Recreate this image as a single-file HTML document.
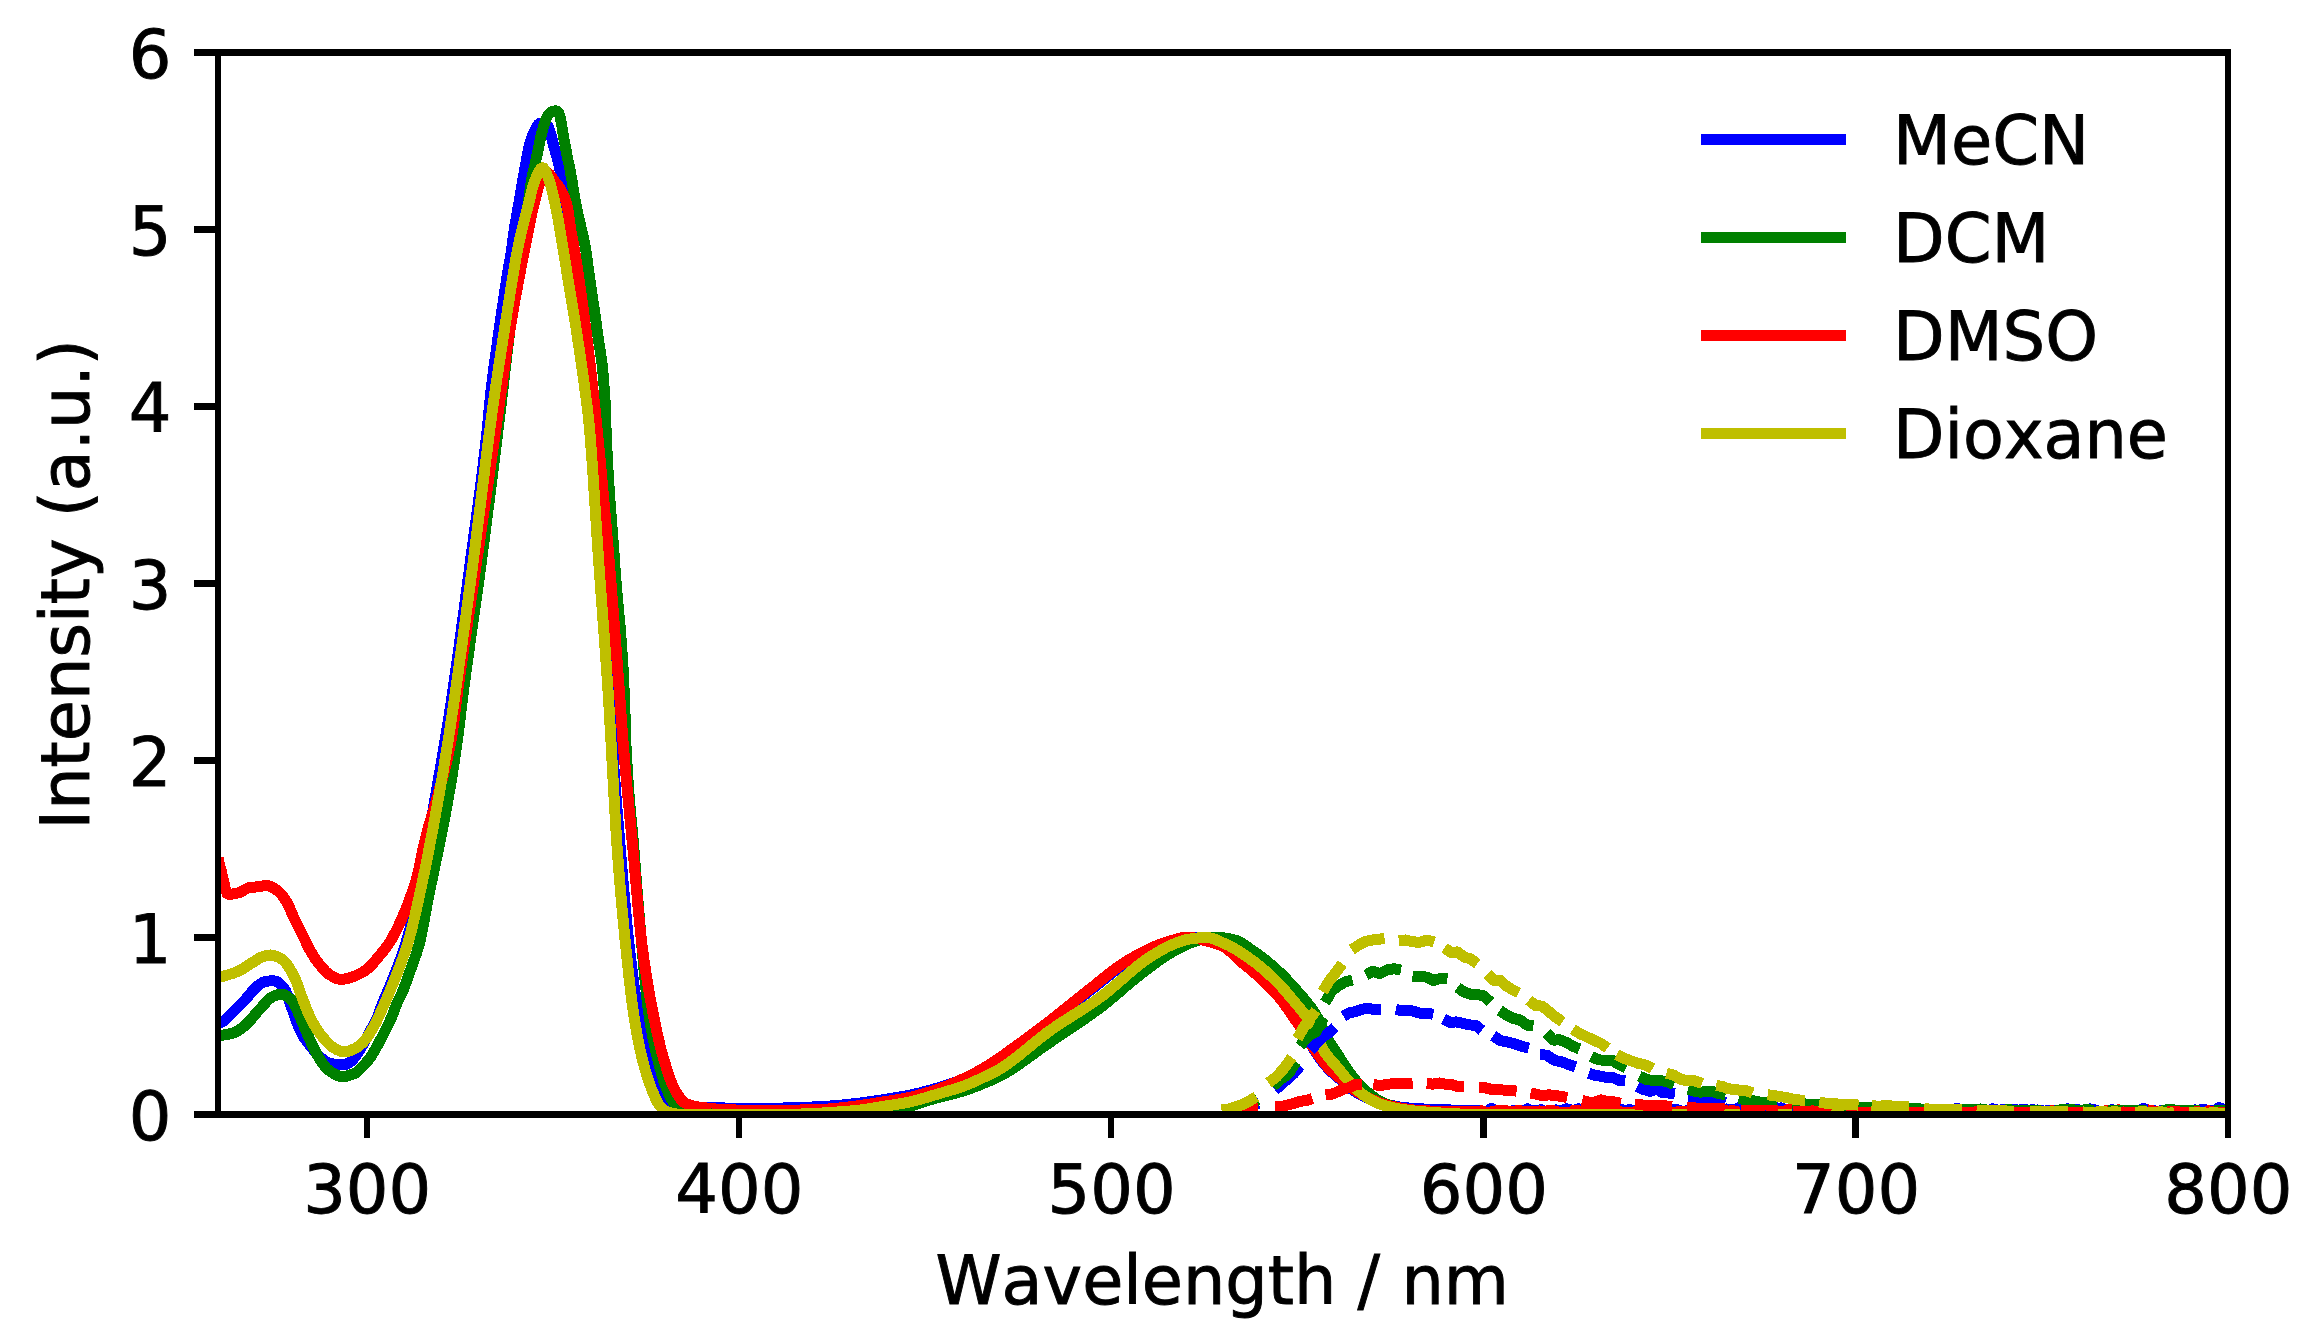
<!DOCTYPE html>
<html lang="en"><head><meta charset="utf-8"><title>Absorption and emission spectra</title>
<style>html,body{margin:0;padding:0;background:#fff}body{width:2306px;height:1342px;overflow:hidden}svg{display:block}text{font-family:"DejaVu Sans","Liberation Sans",sans-serif;font-size:67.00px;fill:#000;font-kerning:none;stroke:#000;stroke-width:0.9px;stroke-linejoin:miter}.ln{fill:none;stroke-width:11.00;stroke-linejoin:round;stroke-linecap:butt}</style></head><body>
<svg width="2306" height="1342" viewBox="0 0 2306 1342" shape-rendering="crispEdges">
<rect x="0" y="0" width="2306" height="1342" fill="#fff"/>
<defs><clipPath id="ax"><rect x="218.0" y="52.5" width="2010.0" height="1062.0"/></clipPath></defs>
<g clip-path="url(#ax)">
<path class="ln" stroke="#0000ff" d="M218.0 1023.5 L219.5 1023.1 L221.0 1022.5 L222.5 1021.7 L224.0 1020.6 L225.5 1019.4 L227.0 1018.0 L228.5 1016.5 L230.0 1015.0 L231.5 1013.5 L233.0 1012.0 L234.5 1010.6 L236.0 1009.1 L237.5 1007.7 L239.0 1006.2 L240.5 1004.7 L242.0 1003.1 L243.5 1001.6 L245.0 1000.0 L246.5 998.3 L248.0 996.5 L249.5 994.7 L251.0 992.8 L252.5 991.0 L254.0 989.3 L255.5 987.8 L257.0 986.5 L258.5 985.4 L260.0 984.2 L261.5 983.2 L263.0 982.3 L264.5 981.7 L266.0 981.3 L267.5 981.1 L269.0 981.0 L270.5 980.9 L272.0 980.8 L273.5 980.8 L275.0 981.0 L276.5 981.5 L278.0 982.4 L279.5 983.5 L281.0 984.8 L282.5 986.4 L284.0 988.0 L285.5 990.6 L287.0 994.4 L288.5 998.7 L290.0 1003.0 L291.5 1007.2 L293.0 1011.5 L294.5 1015.9 L296.0 1020.0 L297.5 1024.0 L299.0 1027.7 L300.5 1031.0 L302.0 1033.9 L303.5 1036.6 L305.0 1038.9 L306.5 1041.0 L308.0 1043.0 L309.5 1044.9 L311.0 1046.7 L312.5 1048.5 L314.0 1050.3 L315.5 1052.2 L317.0 1054.0 L318.5 1055.6 L320.0 1057.0 L321.5 1058.3 L323.0 1059.5 L324.5 1060.6 L326.0 1061.5 L327.5 1062.3 L329.0 1062.9 L330.5 1063.4 L332.0 1063.8 L333.5 1064.1 L335.0 1064.4 L336.5 1064.5 L338.0 1064.7 L339.5 1064.8 L341.0 1064.8 L342.5 1064.9 L344.0 1064.9 L345.5 1064.6 L347.0 1064.0 L348.5 1063.1 L350.0 1062.0 L351.5 1060.9 L353.0 1059.6 L354.5 1057.7 L356.0 1055.5 L357.5 1053.2 L359.0 1051.0 L360.5 1048.7 L362.0 1046.2 L363.5 1043.7 L365.0 1041.0 L366.5 1038.2 L368.0 1035.3 L369.5 1032.4 L371.0 1029.7 L372.5 1027.1 L374.0 1024.5 L375.5 1021.6 L377.0 1018.2 L378.5 1014.2 L380.0 1010.0 L381.5 1006.0 L383.0 1002.3 L384.5 998.8 L386.0 995.3 L387.5 991.8 L389.0 988.3 L390.5 984.7 L392.0 981.0 L393.5 977.3 L395.0 973.5 L396.5 969.7 L398.0 965.8 L399.5 961.7 L401.0 957.5 L402.5 953.3 L404.0 948.9 L405.5 944.2 L407.0 939.3 L408.5 934.1 L410.0 928.7 L411.5 923.0 L413.0 917.0 L414.5 910.8 L416.0 904.3 L417.5 897.5 L419.0 890.3 L420.5 882.6 L422.0 874.6 L423.5 866.2 L425.0 857.6 L426.5 848.9 L428.0 840.0 L429.5 831.1 L431.0 822.1 L432.5 813.2 L434.0 804.5 L435.5 795.9 L437.0 787.4 L438.5 778.9 L440.0 770.3 L441.5 761.7 L443.0 752.9 L444.5 744.0 L446.0 735.0 L447.5 725.8 L449.0 716.3 L450.5 706.6 L452.0 696.6 L453.5 686.4 L455.0 675.9 L456.5 665.2 L458.0 654.4 L459.5 643.5 L461.0 632.4 L462.5 621.2 L464.0 609.9 L465.5 598.6 L467.0 587.2 L468.5 575.8 L470.0 564.4 L471.5 553.1 L473.0 542.0 L474.5 531.1 L476.0 520.1 L477.5 509.0 L479.0 497.8 L480.5 486.3 L482.0 474.5 L483.5 462.2 L485.0 449.4 L486.5 436.0 L488.0 421.9 L489.5 405.4 L491.0 390.8 L492.5 378.2 L494.0 366.6 L495.5 355.7 L497.0 345.1 L498.5 334.5 L500.0 323.8 L501.5 313.3 L503.0 303.0 L504.5 293.0 L506.0 283.2 L507.5 273.7 L509.0 264.9 L510.5 256.3 L512.0 246.5 L513.5 235.0 L515.0 224.9 L516.5 216.3 L518.0 207.9 L519.5 199.1 L521.0 190.3 L522.5 181.7 L524.0 173.2 L525.5 165.0 L527.0 156.9 L528.5 149.2 L530.0 143.2 L531.5 138.3 L533.0 134.2 L534.5 131.0 L536.0 128.0 L537.5 125.4 L539.0 123.7 L540.5 123.3 L542.0 123.4 L543.5 123.7 L545.0 124.2 L546.5 124.8 L548.0 126.2 L549.5 130.2 L551.0 135.0 L552.5 140.8 L554.0 147.0 L555.5 152.0 L557.0 157.1 L558.5 163.2 L560.0 170.2 L561.5 178.8 L563.0 189.7 L564.5 200.7 L566.0 212.1 L567.5 223.6 L569.0 235.1 L570.5 246.3 L572.0 257.1 L573.5 267.4 L575.0 277.5 L576.5 287.4 L578.0 297.4 L579.5 307.6 L581.0 318.4 L582.5 329.8 L584.0 342.0 L585.5 354.8 L587.0 368.3 L588.5 382.5 L590.0 397.3 L591.5 412.7 L593.0 428.6 L594.5 444.8 L596.0 461.3 L597.5 478.6 L599.0 496.8 L600.5 516.1 L602.0 537.0 L603.5 559.5 L605.0 585.3 L606.5 617.6 L608.0 653.1 L609.5 688.6 L611.0 720.6 L612.5 746.3 L614.0 768.8 L615.5 789.5 L617.0 808.8 L618.5 827.1 L620.0 845.1 L621.5 863.1 L623.0 880.8 L624.5 898.0 L626.0 914.5 L627.5 930.1 L629.0 944.4 L630.5 957.5 L632.0 969.8 L633.5 981.4 L635.0 992.3 L636.5 1002.5 L638.0 1012.0 L639.5 1020.8 L641.0 1029.2 L642.5 1037.1 L644.0 1044.6 L645.5 1051.5 L647.0 1058.0 L648.5 1064.1 L650.0 1070.1 L651.5 1075.9 L653.0 1081.2 L654.5 1085.7 L656.0 1089.3 L657.5 1091.8 L659.0 1094.2 L660.5 1096.3 L662.0 1098.2 L663.5 1099.9 L665.0 1101.2 L666.5 1102.3 L668.0 1103.0 L669.5 1103.5 L671.0 1104.1 L672.5 1104.5 L674.0 1105.0 L675.5 1105.4 L677.0 1105.8 L678.5 1106.1 L680.0 1106.4 L681.5 1106.7 L683.0 1106.9 L684.5 1107.1 L686.0 1107.3 L687.5 1107.4 L689.0 1107.5 L690.5 1107.5 L692.0 1107.5 L693.5 1107.6 L695.0 1107.6 L696.5 1107.6 L698.0 1107.7 L699.5 1107.7 L701.0 1107.7 L702.5 1107.7 L704.0 1107.8 L705.5 1107.8 L707.0 1107.8 L708.5 1107.8 L710.0 1107.8 L711.5 1107.8 L713.0 1107.9 L714.5 1107.9 L716.0 1107.9 L717.5 1107.9 L719.0 1107.9 L720.5 1107.9 L722.0 1107.9 L723.5 1107.9 L725.0 1108.0 L726.5 1108.0 L728.0 1108.0 L729.5 1108.0 L731.0 1108.0 L732.5 1108.0 L734.0 1108.0 L735.5 1108.1 L737.0 1108.1 L738.5 1108.1 L740.0 1108.1 L741.5 1108.1 L743.0 1108.2 L744.5 1108.2 L746.0 1108.2 L747.5 1108.2 L749.0 1108.2 L750.5 1108.3 L752.0 1108.3 L753.5 1108.3 L755.0 1108.3 L756.5 1108.3 L758.0 1108.3 L759.5 1108.3 L761.0 1108.3 L762.5 1108.3 L764.0 1108.3 L765.5 1108.3 L767.0 1108.3 L768.5 1108.3 L770.0 1108.2 L771.5 1108.2 L773.0 1108.2 L774.5 1108.2 L776.0 1108.1 L777.5 1108.1 L779.0 1108.1 L780.5 1108.1 L782.0 1108.0 L783.5 1108.0 L785.0 1107.9 L786.5 1107.9 L788.0 1107.9 L789.5 1107.8 L791.0 1107.8 L792.5 1107.7 L794.0 1107.7 L795.5 1107.6 L797.0 1107.6 L798.5 1107.5 L800.0 1107.5 L801.5 1107.4 L803.0 1107.3 L804.5 1107.3 L806.0 1107.2 L807.5 1107.2 L809.0 1107.1 L810.5 1107.0 L812.0 1107.0 L813.5 1106.9 L815.0 1106.8 L816.5 1106.8 L818.0 1106.7 L819.5 1106.6 L821.0 1106.6 L822.5 1106.5 L824.0 1106.4 L825.5 1106.3 L827.0 1106.3 L828.5 1106.2 L830.0 1106.1 L831.5 1105.9 L833.0 1105.8 L834.5 1105.7 L836.0 1105.6 L837.5 1105.4 L839.0 1105.3 L840.5 1105.1 L842.0 1105.0 L843.5 1104.8 L845.0 1104.7 L846.5 1104.5 L848.0 1104.4 L849.5 1104.2 L851.0 1104.0 L852.5 1103.9 L854.0 1103.7 L855.5 1103.5 L857.0 1103.3 L858.5 1103.2 L860.0 1103.0 L861.5 1102.8 L863.0 1102.6 L864.5 1102.4 L866.0 1102.3 L867.5 1102.0 L869.0 1101.8 L870.5 1101.6 L872.0 1101.4 L873.5 1101.2 L875.0 1101.0 L876.5 1100.7 L878.0 1100.5 L879.5 1100.3 L881.0 1100.0 L882.5 1099.8 L884.0 1099.6 L885.5 1099.4 L887.0 1099.1 L888.5 1098.9 L890.0 1098.7 L891.5 1098.4 L893.0 1098.2 L894.5 1097.9 L896.0 1097.7 L897.5 1097.4 L899.0 1097.2 L900.5 1096.9 L902.0 1096.6 L903.5 1096.4 L905.0 1096.1 L906.5 1095.8 L908.0 1095.5 L909.5 1095.2 L911.0 1094.9 L912.5 1094.6 L914.0 1094.2 L915.5 1093.9 L917.0 1093.5 L918.5 1093.2 L920.0 1092.8 L921.5 1092.4 L923.0 1092.0 L924.5 1091.7 L926.0 1091.3 L927.5 1090.9 L929.0 1090.5 L930.5 1090.0 L932.0 1089.6 L933.5 1089.2 L935.0 1088.8 L936.5 1088.3 L938.0 1087.9 L939.5 1087.4 L941.0 1087.0 L942.5 1086.5 L944.0 1086.0 L945.5 1085.6 L947.0 1085.1 L948.5 1084.6 L950.0 1084.1 L951.5 1083.6 L953.0 1083.0 L954.5 1082.5 L956.0 1081.9 L957.5 1081.4 L959.0 1080.8 L960.5 1080.2 L962.0 1079.6 L963.5 1078.9 L965.0 1078.3 L966.5 1077.6 L968.0 1076.9 L969.5 1076.2 L971.0 1075.4 L972.5 1074.6 L974.0 1073.8 L975.5 1073.0 L977.0 1072.2 L978.5 1071.3 L980.0 1070.4 L981.5 1069.6 L983.0 1068.7 L984.5 1067.8 L986.0 1066.8 L987.5 1065.9 L989.0 1065.0 L990.5 1064.0 L992.0 1063.1 L993.5 1062.1 L995.0 1061.2 L996.5 1060.2 L998.0 1059.3 L999.5 1058.3 L1001.0 1057.4 L1002.5 1056.4 L1004.0 1055.4 L1005.5 1054.4 L1007.0 1053.5 L1008.5 1052.5 L1010.0 1051.4 L1011.5 1050.4 L1013.0 1049.4 L1014.5 1048.4 L1016.0 1047.3 L1017.5 1046.3 L1019.0 1045.2 L1020.5 1044.2 L1022.0 1043.1 L1023.5 1042.0 L1025.0 1040.9 L1026.5 1039.8 L1028.0 1038.7 L1029.5 1037.6 L1031.0 1036.5 L1032.5 1035.4 L1034.0 1034.3 L1035.5 1033.2 L1037.0 1032.1 L1038.5 1031.0 L1040.0 1029.8 L1041.5 1028.7 L1043.0 1027.6 L1044.5 1026.5 L1046.0 1025.3 L1047.5 1024.2 L1049.0 1023.1 L1050.5 1021.9 L1052.0 1020.8 L1053.5 1019.7 L1055.0 1018.5 L1056.5 1017.3 L1058.0 1016.2 L1059.5 1015.0 L1061.0 1013.8 L1062.5 1012.6 L1064.0 1011.4 L1065.5 1010.2 L1067.0 1009.0 L1068.5 1007.8 L1070.0 1006.6 L1071.5 1005.3 L1073.0 1004.1 L1074.5 1002.9 L1076.0 1001.7 L1077.5 1000.5 L1079.0 999.2 L1080.5 998.0 L1082.0 996.8 L1083.5 995.6 L1085.0 994.4 L1086.5 993.2 L1088.0 992.0 L1089.5 990.8 L1091.0 989.7 L1092.5 988.5 L1094.0 987.3 L1095.5 986.2 L1097.0 985.0 L1098.5 983.8 L1100.0 982.6 L1101.5 981.4 L1103.0 980.1 L1104.5 978.9 L1106.0 977.7 L1107.5 976.5 L1109.0 975.3 L1110.5 974.1 L1112.0 973.0 L1113.5 971.8 L1115.0 970.7 L1116.5 969.5 L1118.0 968.4 L1119.5 967.3 L1121.0 966.3 L1122.5 965.2 L1124.0 964.2 L1125.5 963.2 L1127.0 962.3 L1128.5 961.4 L1130.0 960.5 L1131.5 959.6 L1133.0 958.8 L1134.5 957.9 L1136.0 957.1 L1137.5 956.2 L1139.0 955.4 L1140.5 954.6 L1142.0 953.8 L1143.5 953.0 L1145.0 952.2 L1146.5 951.4 L1148.0 950.6 L1149.5 949.9 L1151.0 949.2 L1152.5 948.5 L1154.0 947.8 L1155.5 947.2 L1157.0 946.5 L1158.5 945.9 L1160.0 945.3 L1161.5 944.8 L1163.0 944.3 L1164.5 943.8 L1166.0 943.3 L1167.5 942.9 L1169.0 942.5 L1170.5 942.1 L1172.0 941.7 L1173.5 941.2 L1175.0 940.8 L1176.5 940.4 L1178.0 940.0 L1179.5 939.7 L1181.0 939.3 L1182.5 939.0 L1184.0 938.6 L1185.5 938.4 L1187.0 938.1 L1188.5 937.9 L1190.0 937.7 L1191.5 937.5 L1193.0 937.4 L1194.5 937.3 L1196.0 937.3 L1197.5 937.4 L1199.0 937.5 L1200.5 937.7 L1202.0 938.0 L1203.5 938.4 L1205.0 938.8 L1206.5 939.3 L1208.0 939.7 L1209.5 940.2 L1211.0 940.6 L1212.5 941.1 L1214.0 941.5 L1215.5 941.9 L1217.0 942.3 L1218.5 942.7 L1220.0 943.2 L1221.5 943.6 L1223.0 944.1 L1224.5 944.6 L1226.0 945.2 L1227.5 945.8 L1229.0 946.4 L1230.5 947.1 L1232.0 947.9 L1233.5 948.9 L1235.0 949.9 L1236.5 951.0 L1238.0 952.2 L1239.5 953.5 L1241.0 954.8 L1242.5 956.2 L1244.0 957.6 L1245.5 959.1 L1247.0 960.6 L1248.5 962.1 L1250.0 963.6 L1251.5 965.1 L1253.0 966.6 L1254.5 968.0 L1256.0 969.5 L1257.5 970.9 L1259.0 972.3 L1260.5 973.8 L1262.0 975.2 L1263.5 976.7 L1265.0 978.2 L1266.5 979.8 L1268.0 981.3 L1269.5 982.9 L1271.0 984.5 L1272.5 986.1 L1274.0 987.8 L1275.5 989.5 L1277.0 991.2 L1278.5 993.0 L1280.0 994.8 L1281.5 996.7 L1283.0 998.6 L1284.5 1000.6 L1286.0 1002.7 L1287.5 1004.8 L1289.0 1006.9 L1290.5 1009.1 L1292.0 1011.4 L1293.5 1013.6 L1295.0 1016.0 L1296.5 1018.3 L1298.0 1020.7 L1299.5 1023.1 L1301.0 1025.7 L1302.5 1028.4 L1304.0 1031.2 L1305.5 1034.0 L1307.0 1036.9 L1308.5 1039.8 L1310.0 1042.6 L1311.5 1045.4 L1313.0 1048.0 L1314.5 1050.5 L1316.0 1052.8 L1317.5 1055.0 L1319.0 1057.2 L1320.5 1059.3 L1322.0 1061.3 L1323.5 1063.2 L1325.0 1065.0 L1326.5 1066.7 L1328.0 1068.3 L1329.5 1069.9 L1331.0 1071.3 L1332.5 1072.7 L1334.0 1074.0 L1335.5 1075.3 L1337.0 1076.6 L1338.5 1077.9 L1340.0 1079.1 L1341.5 1080.4 L1343.0 1081.7 L1344.5 1083.0 L1346.0 1084.4 L1347.5 1085.7 L1349.0 1087.0 L1350.5 1088.2 L1352.0 1089.3 L1353.5 1090.3 L1355.0 1091.3 L1356.5 1092.3 L1358.0 1093.2 L1359.5 1094.1 L1361.0 1094.9 L1362.5 1095.7 L1364.0 1096.5 L1365.5 1097.2 L1367.0 1097.9 L1368.5 1098.5 L1370.0 1099.1 L1371.5 1099.7 L1373.0 1100.2 L1374.5 1100.7 L1376.0 1101.2 L1377.5 1101.7 L1379.0 1102.2 L1380.5 1102.6 L1382.0 1103.0 L1383.5 1103.4 L1385.0 1103.8 L1386.5 1104.2 L1388.0 1104.6 L1389.5 1105.0 L1391.0 1105.3 L1392.5 1105.7 L1394.0 1106.0 L1395.5 1106.3 L1397.0 1106.6 L1398.5 1106.9 L1400.0 1107.1 L1401.5 1107.3 L1403.0 1107.4 L1404.5 1107.6 L1406.0 1107.7 L1407.5 1107.9 L1409.0 1108.0 L1410.5 1108.1 L1412.0 1108.2 L1413.5 1108.3 L1415.0 1108.4 L1416.5 1108.5 L1418.0 1108.6 L1419.5 1108.7 L1421.0 1108.8 L1422.5 1108.9 L1424.0 1109.0 L1425.5 1109.0 L1427.0 1109.1 L1428.5 1109.2 L1430.0 1109.2 L1431.5 1109.3 L1433.0 1109.4 L1434.5 1109.4 L1436.0 1109.5 L1437.5 1109.5 L1439.0 1109.6 L1440.5 1109.6 L1442.0 1109.7 L1443.5 1109.7 L1445.0 1109.8 L1446.5 1109.8 L1448.0 1109.9 L1449.5 1109.9 L1451.0 1110.0 L1452.5 1110.0 L1454.0 1110.1 L1455.5 1110.1 L1457.0 1110.1 L1458.5 1110.2 L1460.0 1110.2 L1461.5 1110.2 L1463.0 1110.2 L1464.5 1110.3 L1466.0 1110.3 L1467.5 1110.3 L1469.0 1110.3 L1470.5 1110.3 L1472.0 1110.3 L1473.5 1110.3 L1475.0 1110.3 L1476.5 1110.3 L1478.0 1110.3 L1479.5 1110.3 L1481.0 1110.6 L1482.5 1111.4 L1484.0 1111.5 L1485.5 1112.0 L1487.0 1111.0 L1488.5 1110.7 L1490.0 1109.2 L1491.5 1108.4 L1493.0 1109.4 L1494.5 1109.8 L1496.0 1111.4 L1497.5 1111.4 L1499.0 1111.2 L1500.5 1110.9 L1502.0 1110.8 L1503.5 1111.7 L1505.0 1111.4 L1506.5 1113.1 L1508.0 1112.5 L1509.5 1111.6 L1511.0 1112.1 L1512.5 1110.7 L1514.0 1111.0 L1515.5 1110.8 L1517.0 1111.2 L1518.5 1110.9 L1520.0 1111.4 L1521.5 1112.3 L1523.0 1111.1 L1524.5 1110.6 L1526.0 1109.5 L1527.5 1108.9 L1529.0 1109.5 L1530.5 1110.1 L1532.0 1110.2 L1533.5 1110.3 L1535.0 1110.9 L1536.5 1110.2 L1538.0 1110.4 L1539.5 1110.4 L1541.0 1109.7 L1542.5 1110.2 L1544.0 1111.1 L1545.5 1111.5 L1547.0 1112.0 L1548.5 1111.7 L1550.0 1112.0 L1551.5 1111.5 L1553.0 1110.9 L1554.5 1111.1 L1556.0 1109.9 L1557.5 1110.7 L1559.0 1111.0 L1560.5 1111.2 L1562.0 1110.4 L1563.5 1109.8 L1565.0 1109.3 L1566.5 1108.7 L1568.0 1110.0 L1569.5 1109.2 L1571.0 1110.1 L1572.5 1111.1 L1574.0 1110.0 L1575.5 1110.4 L1577.0 1109.3 L1578.5 1108.7 L1580.0 1110.0 L1581.5 1109.4 L1583.0 1110.9 L1584.5 1110.8 L1586.0 1109.9 L1587.5 1110.4 L1589.0 1110.0 L1590.5 1109.5 L1592.0 1110.0 L1593.5 1109.5 L1595.0 1109.7 L1596.5 1110.3 L1598.0 1110.2 L1599.5 1111.2 L1601.0 1110.1 L1602.5 1109.9 L1604.0 1110.9 L1605.5 1110.4 L1607.0 1111.6 L1608.5 1111.8 L1610.0 1110.7 L1611.5 1110.6 L1613.0 1110.0 L1614.5 1109.8 L1616.0 1109.7 L1617.5 1109.5 L1619.0 1108.8 L1620.5 1109.0 L1622.0 1109.6 L1623.5 1110.3 L1625.0 1110.1 L1626.5 1110.4 L1628.0 1110.2 L1629.5 1109.3 L1631.0 1110.1 L1632.5 1110.1 L1634.0 1110.4 L1635.5 1111.3 L1637.0 1111.7 L1638.5 1111.8 L1640.0 1111.5 L1641.5 1110.2 L1643.0 1109.5 L1644.5 1109.2 L1646.0 1109.0 L1647.5 1110.3 L1649.0 1111.0 L1650.5 1110.8 L1652.0 1111.9 L1653.5 1111.2 L1655.0 1111.2 L1656.5 1111.0 L1658.0 1109.8 L1659.5 1110.5 L1661.0 1109.8 L1662.5 1110.4 L1664.0 1110.2 L1665.5 1110.0 L1667.0 1109.9 L1668.5 1109.4 L1670.0 1109.7 L1671.5 1109.2 L1673.0 1109.9 L1674.5 1109.4 L1676.0 1109.2 L1677.5 1110.1 L1679.0 1110.2 L1680.5 1111.1 L1682.0 1111.7 L1683.5 1112.3 L1685.0 1111.3 L1686.5 1110.7 L1688.0 1110.1 L1689.5 1109.5 L1691.0 1110.1 L1692.5 1111.0 L1694.0 1111.9 L1695.5 1111.4 L1697.0 1110.9 L1698.5 1109.9 L1700.0 1110.5 L1701.5 1111.0 L1703.0 1111.7 L1704.5 1111.9 L1706.0 1110.9 L1707.5 1110.3 L1709.0 1109.9 L1710.5 1108.9 L1712.0 1109.0 L1713.5 1109.0 L1715.0 1109.3 L1716.5 1110.4 L1718.0 1110.8 L1719.5 1111.0 L1721.0 1111.2 L1722.5 1110.0 L1724.0 1109.1 L1725.5 1109.9 L1727.0 1109.0 L1728.5 1110.0 L1730.0 1110.8 L1731.5 1109.7 L1733.0 1110.5 L1734.5 1110.0 L1736.0 1108.8 L1737.5 1108.6 L1739.0 1107.6 L1740.5 1108.2 L1742.0 1108.9 L1743.5 1109.7 L1745.0 1109.9 L1746.5 1111.1 L1748.0 1111.2 L1749.5 1111.0 L1751.0 1111.7 L1752.5 1110.5 L1754.0 1110.2 L1755.5 1110.3 L1757.0 1110.5 L1758.5 1110.9 L1760.0 1111.6 L1761.5 1111.3 L1763.0 1110.5 L1764.5 1111.1 L1766.0 1110.6 L1767.5 1111.1 L1769.0 1111.8 L1770.5 1111.5 L1772.0 1111.0 L1773.5 1110.6 L1775.0 1110.1 L1776.5 1109.3 L1778.0 1108.8 L1779.5 1109.0 L1781.0 1107.9 L1782.5 1108.1 L1784.0 1109.5 L1785.5 1109.8 L1787.0 1110.5 L1788.5 1110.8 L1790.0 1110.2 L1791.5 1109.4 L1793.0 1109.5 L1794.5 1108.7 L1796.0 1109.1 L1797.5 1110.1 L1799.0 1109.6 L1800.5 1109.7 L1802.0 1110.0 L1803.5 1109.8 L1805.0 1110.9 L1806.5 1110.5 L1808.0 1110.5 L1809.5 1109.7 L1811.0 1109.6 L1812.5 1110.9 L1814.0 1111.3 L1815.5 1112.2 L1817.0 1112.5 L1818.5 1111.7 L1820.0 1110.6 L1821.5 1110.9 L1823.0 1110.5 L1824.5 1110.7 L1826.0 1110.3 L1827.5 1109.8 L1829.0 1110.1 L1830.5 1109.8 L1832.0 1110.2 L1833.5 1110.9 L1835.0 1110.7 L1836.5 1110.9 L1838.0 1110.6 L1839.5 1109.6 L1841.0 1109.4 L1842.5 1110.2 L1844.0 1110.4 L1845.5 1111.5 L1847.0 1111.2 L1848.5 1110.4 L1850.0 1111.1 L1851.5 1110.2 L1853.0 1110.2 L1854.5 1110.3 L1856.0 1110.1 L1857.5 1109.5 L1859.0 1109.7 L1860.5 1109.7 L1862.0 1109.4 L1863.5 1110.5 L1865.0 1110.3 L1866.5 1110.2 L1868.0 1110.4 L1869.5 1110.4 L1871.0 1110.6 L1872.5 1111.4 L1874.0 1111.0 L1875.5 1111.2 L1877.0 1110.9 L1878.5 1110.2 L1880.0 1110.8 L1881.5 1111.1 L1883.0 1111.9 L1884.5 1111.8 L1886.0 1112.2 L1887.5 1111.2 L1889.0 1110.4 L1890.5 1110.8 L1892.0 1110.3 L1893.5 1110.8 L1895.0 1110.9 L1896.5 1110.9 L1898.0 1111.1 L1899.5 1110.8 L1901.0 1111.0 L1902.5 1110.6 L1904.0 1110.7 L1905.5 1110.6 L1907.0 1110.9 L1908.5 1111.0 L1910.0 1110.6 L1911.5 1110.1 L1913.0 1109.9 L1914.5 1110.4 L1916.0 1110.4 L1917.5 1111.3 L1919.0 1111.4 L1920.5 1111.7 L1922.0 1111.5 L1923.5 1110.4 L1925.0 1110.5 L1926.5 1109.8 L1928.0 1109.4 L1929.5 1110.5 L1931.0 1110.4 L1932.5 1110.7 L1934.0 1110.9 L1935.5 1110.7 L1937.0 1110.7 L1938.5 1111.3 L1940.0 1111.2 L1941.5 1111.1 L1943.0 1111.1 L1944.5 1109.6 L1946.0 1109.1 L1947.5 1110.1 L1949.0 1109.2 L1950.5 1110.2 L1952.0 1110.5 L1953.5 1109.2 L1955.0 1109.1 L1956.5 1108.5 L1958.0 1109.2 L1959.5 1108.9 L1961.0 1110.1 L1962.5 1110.6 L1964.0 1111.2 L1965.5 1111.6 L1967.0 1111.9 L1968.5 1112.2 L1970.0 1111.1 L1971.5 1110.6 L1973.0 1110.7 L1974.5 1109.7 L1976.0 1109.6 L1977.5 1110.7 L1979.0 1110.6 L1980.5 1110.8 L1982.0 1111.0 L1983.5 1110.5 L1985.0 1110.5 L1986.5 1112.0 L1988.0 1111.2 L1989.5 1111.7 L1991.0 1109.9 L1992.5 1108.8 L1994.0 1109.1 L1995.5 1109.6 L1997.0 1111.0 L1998.5 1110.6 L2000.0 1110.9 L2001.5 1109.8 L2003.0 1109.8 L2004.5 1110.0 L2006.0 1110.5 L2007.5 1111.5 L2009.0 1111.7 L2010.5 1111.2 L2012.0 1110.2 L2013.5 1109.2 L2015.0 1109.3 L2016.5 1109.7 L2018.0 1110.2 L2019.5 1110.6 L2021.0 1109.5 L2022.5 1109.1 L2024.0 1109.6 L2025.5 1109.4 L2027.0 1109.9 L2028.5 1110.5 L2030.0 1110.0 L2031.5 1109.9 L2033.0 1109.9 L2034.5 1110.0 L2036.0 1110.3 L2037.5 1110.0 L2039.0 1110.1 L2040.5 1110.1 L2042.0 1111.0 L2043.5 1111.0 L2045.0 1111.3 L2046.5 1110.9 L2048.0 1110.4 L2049.5 1111.1 L2051.0 1111.6 L2052.5 1112.0 L2054.0 1111.3 L2055.5 1110.9 L2057.0 1110.4 L2058.5 1110.4 L2060.0 1111.7 L2061.5 1112.7 L2063.0 1112.0 L2064.5 1112.0 L2066.0 1110.3 L2067.5 1108.8 L2069.0 1109.6 L2070.5 1109.7 L2072.0 1109.9 L2073.5 1111.4 L2075.0 1110.6 L2076.5 1109.8 L2078.0 1110.6 L2079.5 1109.9 L2081.0 1110.3 L2082.5 1110.8 L2084.0 1110.6 L2085.5 1110.4 L2087.0 1110.4 L2088.5 1109.6 L2090.0 1108.9 L2091.5 1109.2 L2093.0 1109.0 L2094.5 1110.1 L2096.0 1111.3 L2097.5 1110.8 L2099.0 1111.3 L2100.5 1112.0 L2102.0 1111.7 L2103.5 1112.7 L2105.0 1113.3 L2106.5 1112.7 L2108.0 1112.3 L2109.5 1111.1 L2111.0 1109.9 L2112.5 1109.8 L2114.0 1110.0 L2115.5 1110.3 L2117.0 1111.2 L2118.5 1110.7 L2120.0 1111.0 L2121.5 1111.1 L2123.0 1110.7 L2124.5 1111.0 L2126.0 1110.5 L2127.5 1111.6 L2129.0 1110.8 L2130.5 1110.9 L2132.0 1111.5 L2133.5 1110.7 L2135.0 1111.3 L2136.5 1112.0 L2138.0 1111.0 L2139.5 1110.1 L2141.0 1110.5 L2142.5 1109.0 L2144.0 1108.4 L2145.5 1109.4 L2147.0 1109.5 L2148.5 1110.5 L2150.0 1111.3 L2151.5 1111.0 L2153.0 1110.3 L2154.5 1110.7 L2156.0 1111.3 L2157.5 1111.5 L2159.0 1111.1 L2160.5 1110.7 L2162.0 1111.0 L2163.5 1111.2 L2165.0 1112.4 L2166.5 1112.1 L2168.0 1111.2 L2169.5 1111.0 L2171.0 1110.8 L2172.5 1110.9 L2174.0 1110.9 L2175.5 1111.4 L2177.0 1110.7 L2178.5 1110.6 L2180.0 1110.5 L2181.5 1110.2 L2183.0 1111.3 L2184.5 1111.9 L2186.0 1112.5 L2187.5 1111.4 L2189.0 1111.7 L2190.5 1111.4 L2192.0 1111.0 L2193.5 1111.6 L2195.0 1110.5 L2196.5 1110.5 L2198.0 1110.7 L2199.5 1110.5 L2201.0 1109.5 L2202.5 1109.3 L2204.0 1109.4 L2205.5 1109.8 L2207.0 1110.9 L2208.5 1111.1 L2210.0 1111.3 L2211.5 1110.9 L2213.0 1111.6 L2214.5 1110.5 L2216.0 1109.5 L2217.5 1109.3 L2219.0 1107.5 L2220.5 1108.0 L2222.0 1109.1 L2223.5 1110.1 L2225.0 1111.2 L2226.5 1112.4 L2228.0 1111.9"/>
<path class="ln" stroke="#008000" d="M218.0 1035.5 L219.5 1035.4 L221.0 1035.3 L222.5 1035.1 L224.0 1035.0 L225.5 1034.7 L227.0 1034.5 L228.5 1034.1 L230.0 1033.8 L231.5 1033.4 L233.0 1033.0 L234.5 1032.5 L236.0 1031.8 L237.5 1030.9 L239.0 1030.0 L240.5 1029.0 L242.0 1027.8 L243.5 1026.7 L245.0 1025.5 L246.5 1024.2 L248.0 1022.8 L249.5 1021.2 L251.0 1019.5 L252.5 1017.7 L254.0 1015.9 L255.5 1014.1 L257.0 1012.3 L258.5 1010.6 L260.0 1009.0 L261.5 1007.4 L263.0 1005.6 L264.5 1003.9 L266.0 1002.2 L267.5 1000.6 L269.0 999.1 L270.5 997.9 L272.0 997.0 L273.5 996.3 L275.0 995.6 L276.5 995.0 L278.0 994.5 L279.5 994.1 L281.0 994.0 L282.5 994.2 L284.0 994.6 L285.5 995.4 L287.0 996.3 L288.5 997.4 L290.0 998.7 L291.5 1000.0 L293.0 1001.8 L294.5 1004.4 L296.0 1007.6 L297.5 1011.1 L299.0 1014.6 L300.5 1018.0 L302.0 1021.4 L303.5 1024.9 L305.0 1028.5 L306.5 1032.1 L308.0 1035.6 L309.5 1039.0 L311.0 1042.2 L312.5 1045.5 L314.0 1048.7 L315.5 1051.7 L317.0 1054.5 L318.5 1057.0 L320.0 1059.4 L321.5 1061.7 L323.0 1063.9 L324.5 1065.9 L326.0 1067.8 L327.5 1069.3 L329.0 1070.5 L330.5 1071.5 L332.0 1072.5 L333.5 1073.4 L335.0 1074.3 L336.5 1075.0 L338.0 1075.6 L339.5 1076.1 L341.0 1076.4 L342.5 1076.5 L344.0 1076.4 L345.5 1076.3 L347.0 1076.0 L348.5 1075.6 L350.0 1075.2 L351.5 1074.6 L353.0 1074.1 L354.5 1073.5 L356.0 1072.7 L357.5 1071.6 L359.0 1070.2 L360.5 1068.6 L362.0 1067.0 L363.5 1065.4 L365.0 1063.9 L366.5 1062.3 L368.0 1060.5 L369.5 1058.7 L371.0 1056.6 L372.5 1054.1 L374.0 1051.5 L375.5 1048.9 L377.0 1046.2 L378.5 1043.5 L380.0 1040.7 L381.5 1037.9 L383.0 1035.0 L384.5 1032.1 L386.0 1029.1 L387.5 1026.1 L389.0 1023.0 L390.5 1019.7 L392.0 1016.2 L393.5 1012.2 L395.0 1008.2 L396.5 1004.3 L398.0 1000.9 L399.5 998.0 L401.0 995.1 L402.5 991.7 L404.0 988.0 L405.5 984.0 L407.0 979.9 L408.5 975.7 L410.0 971.4 L411.5 967.2 L413.0 963.1 L414.5 959.0 L416.0 954.7 L417.5 950.0 L419.0 944.9 L420.5 938.9 L422.0 931.9 L423.5 924.1 L425.0 915.9 L426.5 907.7 L428.0 899.8 L429.5 892.3 L431.0 885.0 L432.5 877.7 L434.0 870.6 L435.5 863.4 L437.0 856.3 L438.5 849.1 L440.0 841.8 L441.5 834.4 L443.0 826.8 L444.5 819.0 L446.0 811.0 L447.5 802.7 L449.0 794.1 L450.5 785.3 L452.0 776.2 L453.5 766.7 L455.0 756.8 L456.5 746.5 L458.0 735.7 L459.5 723.8 L461.0 710.8 L462.5 698.4 L464.0 686.9 L465.5 675.6 L467.0 664.6 L468.5 653.8 L470.0 643.2 L471.5 632.6 L473.0 622.1 L474.5 611.6 L476.0 601.0 L477.5 590.3 L479.0 579.3 L480.5 568.2 L482.0 556.8 L483.5 545.3 L485.0 533.7 L486.5 522.1 L488.0 510.3 L489.5 498.5 L491.0 486.6 L492.5 474.7 L494.0 462.6 L495.5 450.5 L497.0 438.4 L498.5 426.2 L500.0 413.9 L501.5 401.3 L503.0 388.5 L504.5 375.5 L506.0 362.7 L507.5 350.0 L509.0 337.7 L510.5 325.9 L512.0 314.3 L513.5 302.9 L515.0 291.7 L516.5 280.8 L518.0 270.2 L519.5 260.0 L521.0 250.0 L522.5 240.3 L524.0 230.8 L525.5 221.4 L527.0 211.7 L528.5 201.5 L530.0 190.0 L531.5 180.0 L533.0 172.7 L534.5 166.4 L536.0 160.0 L537.5 152.7 L539.0 145.1 L540.5 138.1 L542.0 132.0 L543.5 126.5 L545.0 122.0 L546.5 118.2 L548.0 115.1 L549.5 113.3 L551.0 112.2 L552.5 111.4 L554.0 111.1 L555.5 110.8 L557.0 111.0 L558.5 112.3 L560.0 116.1 L561.5 123.8 L563.0 133.4 L564.5 141.9 L566.0 150.0 L567.5 157.6 L569.0 164.8 L570.5 172.3 L572.0 180.8 L573.5 190.1 L575.0 199.4 L576.5 207.6 L578.0 214.6 L579.5 221.0 L581.0 227.1 L582.5 233.4 L584.0 240.3 L585.5 248.3 L587.0 258.2 L588.5 270.0 L590.0 280.8 L591.5 291.0 L593.0 301.0 L594.5 311.1 L596.0 321.7 L597.5 333.0 L599.0 343.5 L600.5 352.7 L602.0 363.4 L603.5 378.3 L605.0 400.0 L606.5 441.1 L608.0 470.1 L609.5 494.1 L611.0 514.7 L612.5 533.9 L614.0 553.3 L615.5 574.5 L617.0 593.0 L618.5 609.2 L620.0 625.4 L621.5 644.1 L623.0 667.4 L624.5 697.7 L626.0 746.0 L627.5 773.4 L629.0 794.4 L630.5 811.4 L632.0 827.0 L633.5 843.7 L635.0 862.8 L636.5 882.2 L638.0 901.1 L639.5 919.4 L641.0 936.7 L642.5 953.2 L644.0 969.5 L645.5 985.1 L647.0 999.3 L648.5 1011.5 L650.0 1021.4 L651.5 1030.2 L653.0 1038.0 L654.5 1045.2 L656.0 1051.8 L657.5 1058.0 L659.0 1064.0 L660.5 1069.7 L662.0 1075.1 L663.5 1080.2 L665.0 1084.7 L666.5 1088.8 L668.0 1092.3 L669.5 1095.5 L671.0 1098.4 L672.5 1100.9 L674.0 1103.0 L675.5 1104.8 L677.0 1106.4 L678.5 1107.9 L680.0 1109.0 L681.5 1109.7 L683.0 1110.3 L684.5 1110.9 L686.0 1111.4 L687.5 1111.8 L689.0 1112.2 L690.5 1112.4 L692.0 1112.5 L693.5 1112.6 L695.0 1112.6 L696.5 1112.7 L698.0 1112.7 L699.5 1112.7 L701.0 1112.8 L702.5 1112.8 L704.0 1112.9 L705.5 1112.9 L707.0 1112.9 L708.5 1113.0 L710.0 1113.0 L711.5 1113.1 L713.0 1113.1 L714.5 1113.1 L716.0 1113.1 L717.5 1113.2 L719.0 1113.2 L720.5 1113.2 L722.0 1113.2 L723.5 1113.3 L725.0 1113.3 L726.5 1113.3 L728.0 1113.3 L729.5 1113.3 L731.0 1113.4 L732.5 1113.4 L734.0 1113.4 L735.5 1113.4 L737.0 1113.4 L738.5 1113.4 L740.0 1113.4 L741.5 1113.4 L743.0 1113.5 L744.5 1113.5 L746.0 1113.5 L747.5 1113.5 L749.0 1113.5 L750.5 1113.5 L752.0 1113.5 L753.5 1113.5 L755.0 1113.5 L756.5 1113.5 L758.0 1113.5 L759.5 1113.5 L761.0 1113.5 L762.5 1113.5 L764.0 1113.5 L765.5 1113.5 L767.0 1113.5 L768.5 1113.5 L770.0 1113.5 L771.5 1113.5 L773.0 1113.5 L774.5 1113.5 L776.0 1113.5 L777.5 1113.5 L779.0 1113.5 L780.5 1113.5 L782.0 1113.5 L783.5 1113.5 L785.0 1113.5 L786.5 1113.5 L788.0 1113.5 L789.5 1113.5 L791.0 1113.5 L792.5 1113.5 L794.0 1113.5 L795.5 1113.5 L797.0 1113.5 L798.5 1113.5 L800.0 1113.5 L801.5 1113.5 L803.0 1113.5 L804.5 1113.5 L806.0 1113.5 L807.5 1113.5 L809.0 1113.5 L810.5 1113.5 L812.0 1113.5 L813.5 1113.5 L815.0 1113.5 L816.5 1113.5 L818.0 1113.5 L819.5 1113.5 L821.0 1113.5 L822.5 1113.5 L824.0 1113.5 L825.5 1113.5 L827.0 1113.5 L828.5 1113.5 L830.0 1113.5 L831.5 1113.5 L833.0 1113.5 L834.5 1113.5 L836.0 1113.5 L837.5 1113.5 L839.0 1113.5 L840.5 1113.5 L842.0 1113.5 L843.5 1113.5 L845.0 1113.5 L846.5 1113.5 L848.0 1113.5 L849.5 1113.5 L851.0 1113.5 L852.5 1113.5 L854.0 1113.5 L855.5 1113.5 L857.0 1113.5 L858.5 1113.5 L860.0 1113.5 L861.5 1113.5 L863.0 1113.5 L864.5 1113.5 L866.0 1113.4 L867.5 1113.4 L869.0 1113.3 L870.5 1113.3 L872.0 1113.2 L873.5 1113.1 L875.0 1113.1 L876.5 1113.0 L878.0 1112.9 L879.5 1112.8 L881.0 1112.6 L882.5 1112.5 L884.0 1112.4 L885.5 1112.3 L887.0 1112.1 L888.5 1112.0 L890.0 1111.8 L891.5 1111.6 L893.0 1111.5 L894.5 1111.3 L896.0 1111.1 L897.5 1110.9 L899.0 1110.6 L900.5 1110.1 L902.0 1109.6 L903.5 1109.0 L905.0 1108.3 L906.5 1107.7 L908.0 1107.0 L909.5 1106.4 L911.0 1105.9 L912.5 1105.4 L914.0 1104.9 L915.5 1104.4 L917.0 1103.9 L918.5 1103.5 L920.0 1103.0 L921.5 1102.5 L923.0 1102.0 L924.5 1101.6 L926.0 1101.1 L927.5 1100.7 L929.0 1100.2 L930.5 1099.8 L932.0 1099.3 L933.5 1098.9 L935.0 1098.5 L936.5 1098.0 L938.0 1097.6 L939.5 1097.2 L941.0 1096.8 L942.5 1096.4 L944.0 1096.0 L945.5 1095.6 L947.0 1095.3 L948.5 1094.9 L950.0 1094.5 L951.5 1094.1 L953.0 1093.8 L954.5 1093.4 L956.0 1093.0 L957.5 1092.6 L959.0 1092.1 L960.5 1091.7 L962.0 1091.3 L963.5 1090.8 L965.0 1090.3 L966.5 1089.8 L968.0 1089.3 L969.5 1088.8 L971.0 1088.2 L972.5 1087.7 L974.0 1087.1 L975.5 1086.5 L977.0 1086.0 L978.5 1085.4 L980.0 1084.8 L981.5 1084.1 L983.0 1083.5 L984.5 1082.9 L986.0 1082.3 L987.5 1081.6 L989.0 1081.0 L990.5 1080.4 L992.0 1079.7 L993.5 1079.1 L995.0 1078.4 L996.5 1077.7 L998.0 1077.0 L999.5 1076.3 L1001.0 1075.5 L1002.5 1074.6 L1004.0 1073.8 L1005.5 1072.9 L1007.0 1072.0 L1008.5 1071.1 L1010.0 1070.2 L1011.5 1069.3 L1013.0 1068.3 L1014.5 1067.3 L1016.0 1066.3 L1017.5 1065.3 L1019.0 1064.3 L1020.5 1063.2 L1022.0 1062.2 L1023.5 1061.1 L1025.0 1060.1 L1026.5 1059.0 L1028.0 1057.9 L1029.5 1056.8 L1031.0 1055.8 L1032.5 1054.7 L1034.0 1053.6 L1035.5 1052.5 L1037.0 1051.4 L1038.5 1050.3 L1040.0 1049.2 L1041.5 1048.2 L1043.0 1047.1 L1044.5 1046.0 L1046.0 1045.0 L1047.5 1043.9 L1049.0 1042.9 L1050.5 1041.9 L1052.0 1040.8 L1053.5 1039.8 L1055.0 1038.8 L1056.5 1037.8 L1058.0 1036.8 L1059.5 1035.8 L1061.0 1034.8 L1062.5 1033.8 L1064.0 1032.8 L1065.5 1031.8 L1067.0 1030.8 L1068.5 1029.8 L1070.0 1028.8 L1071.5 1027.8 L1073.0 1026.8 L1074.5 1025.8 L1076.0 1024.8 L1077.5 1023.7 L1079.0 1022.7 L1080.5 1021.7 L1082.0 1020.7 L1083.5 1019.6 L1085.0 1018.6 L1086.5 1017.6 L1088.0 1016.5 L1089.5 1015.4 L1091.0 1014.4 L1092.5 1013.3 L1094.0 1012.2 L1095.5 1011.1 L1097.0 1010.0 L1098.5 1008.9 L1100.0 1007.8 L1101.5 1006.7 L1103.0 1005.5 L1104.5 1004.3 L1106.0 1003.1 L1107.5 1001.9 L1109.0 1000.7 L1110.5 999.5 L1112.0 998.2 L1113.5 997.0 L1115.0 995.7 L1116.5 994.4 L1118.0 993.1 L1119.5 991.9 L1121.0 990.6 L1122.5 989.3 L1124.0 988.0 L1125.5 986.7 L1127.0 985.4 L1128.5 984.2 L1130.0 982.9 L1131.5 981.7 L1133.0 980.4 L1134.5 979.2 L1136.0 978.0 L1137.5 976.7 L1139.0 975.6 L1140.5 974.4 L1142.0 973.2 L1143.5 972.1 L1145.0 970.9 L1146.5 969.8 L1148.0 968.6 L1149.5 967.5 L1151.0 966.3 L1152.5 965.2 L1154.0 964.0 L1155.5 962.9 L1157.0 961.8 L1158.5 960.7 L1160.0 959.6 L1161.5 958.6 L1163.0 957.6 L1164.5 956.6 L1166.0 955.6 L1167.5 954.7 L1169.0 953.8 L1170.5 952.9 L1172.0 952.1 L1173.5 951.3 L1175.0 950.4 L1176.5 949.6 L1178.0 948.8 L1179.5 948.0 L1181.0 947.2 L1182.5 946.4 L1184.0 945.7 L1185.5 945.0 L1187.0 944.3 L1188.5 943.6 L1190.0 943.0 L1191.5 942.4 L1193.0 941.9 L1194.5 941.4 L1196.0 940.9 L1197.5 940.5 L1199.0 940.2 L1200.5 939.9 L1202.0 939.5 L1203.5 939.2 L1205.0 938.9 L1206.5 938.6 L1208.0 938.4 L1209.5 938.1 L1211.0 937.9 L1212.5 937.7 L1214.0 937.6 L1215.5 937.5 L1217.0 937.5 L1218.5 937.5 L1220.0 937.6 L1221.5 937.7 L1223.0 937.8 L1224.5 938.0 L1226.0 938.2 L1227.5 938.5 L1229.0 938.8 L1230.5 939.1 L1232.0 939.4 L1233.5 939.7 L1235.0 940.1 L1236.5 940.5 L1238.0 941.0 L1239.5 941.7 L1241.0 942.6 L1242.5 943.5 L1244.0 944.5 L1245.5 945.6 L1247.0 946.7 L1248.5 947.8 L1250.0 948.8 L1251.5 949.8 L1253.0 950.8 L1254.5 951.9 L1256.0 953.0 L1257.5 954.0 L1259.0 955.1 L1260.5 956.2 L1262.0 957.4 L1263.5 958.5 L1265.0 959.7 L1266.5 960.9 L1268.0 962.1 L1269.5 963.4 L1271.0 964.6 L1272.5 965.9 L1274.0 967.2 L1275.5 968.5 L1277.0 969.9 L1278.5 971.3 L1280.0 972.7 L1281.5 974.2 L1283.0 975.7 L1284.5 977.2 L1286.0 978.7 L1287.5 980.3 L1289.0 981.9 L1290.5 983.5 L1292.0 985.2 L1293.5 986.8 L1295.0 988.5 L1296.5 990.2 L1298.0 991.9 L1299.5 993.7 L1301.0 995.4 L1302.5 997.1 L1304.0 998.8 L1305.5 1000.6 L1307.0 1002.4 L1308.5 1004.3 L1310.0 1006.3 L1311.5 1008.3 L1313.0 1010.4 L1314.5 1012.6 L1316.0 1015.0 L1317.5 1017.7 L1319.0 1020.7 L1320.5 1023.9 L1322.0 1027.3 L1323.5 1030.7 L1325.0 1033.9 L1326.5 1036.9 L1328.0 1039.5 L1329.5 1042.0 L1331.0 1044.4 L1332.5 1046.7 L1334.0 1048.9 L1335.5 1051.2 L1337.0 1053.5 L1338.5 1055.8 L1340.0 1058.2 L1341.5 1060.6 L1343.0 1063.0 L1344.5 1065.3 L1346.0 1067.6 L1347.5 1069.7 L1349.0 1071.8 L1350.5 1073.8 L1352.0 1075.8 L1353.5 1077.7 L1355.0 1079.6 L1356.5 1081.4 L1358.0 1083.0 L1359.5 1084.6 L1361.0 1086.2 L1362.5 1087.7 L1364.0 1089.1 L1365.5 1090.5 L1367.0 1091.8 L1368.5 1093.1 L1370.0 1094.3 L1371.5 1095.5 L1373.0 1096.7 L1374.5 1097.8 L1376.0 1098.9 L1377.5 1099.9 L1379.0 1100.8 L1380.5 1101.6 L1382.0 1102.3 L1383.5 1103.0 L1385.0 1103.6 L1386.5 1104.1 L1388.0 1104.6 L1389.5 1105.1 L1391.0 1105.6 L1392.5 1106.0 L1394.0 1106.4 L1395.5 1106.9 L1397.0 1107.3 L1398.5 1107.7 L1400.0 1108.0 L1401.5 1108.4 L1403.0 1108.8 L1404.5 1109.1 L1406.0 1109.4 L1407.5 1109.6 L1409.0 1109.9 L1410.5 1110.1 L1412.0 1110.2 L1413.5 1110.4 L1415.0 1110.6 L1416.5 1110.8 L1418.0 1110.9 L1419.5 1111.0 L1421.0 1111.2 L1422.5 1111.3 L1424.0 1111.4 L1425.5 1111.6 L1427.0 1111.7 L1428.5 1111.8 L1430.0 1111.9 L1431.5 1112.0 L1433.0 1112.1 L1434.5 1112.2 L1436.0 1112.3 L1437.5 1112.4 L1439.0 1112.4 L1440.5 1112.5 L1442.0 1112.6 L1443.5 1112.7 L1445.0 1112.8 L1446.5 1112.8 L1448.0 1112.9 L1449.5 1113.0 L1451.0 1113.1 L1452.5 1113.2 L1454.0 1113.2 L1455.5 1113.3 L1457.0 1113.4 L1458.5 1113.4 L1460.0 1113.5 L1461.5 1113.6 L1463.0 1113.6 L1464.5 1113.7 L1466.0 1113.7 L1467.5 1113.8 L1469.0 1113.8 L1470.5 1113.9 L1472.0 1113.9 L1473.5 1113.9 L1475.0 1114.0 L1476.5 1114.0 L1478.0 1114.0 L1479.5 1114.0 L1481.0 1114.0 L1482.5 1114.0 L1484.0 1114.0 L1485.5 1114.0 L1487.0 1114.0 L1488.5 1114.0 L1490.0 1114.0 L1491.5 1114.0 L1493.0 1114.0 L1494.5 1114.0 L1496.0 1114.0 L1497.5 1114.0 L1499.0 1114.0 L1500.5 1113.7 L1502.0 1114.8 L1503.5 1114.8 L1505.0 1114.5 L1506.5 1114.0 L1508.0 1113.5 L1509.5 1113.7 L1511.0 1113.9 L1512.5 1114.6 L1514.0 1114.8 L1515.5 1114.2 L1517.0 1114.4 L1518.5 1114.1 L1520.0 1113.3 L1521.5 1113.8 L1523.0 1113.3 L1524.5 1113.4 L1526.0 1113.7 L1527.5 1113.3 L1529.0 1113.5 L1530.5 1113.3 L1532.0 1114.6 L1533.5 1114.7 L1535.0 1115.7 L1536.5 1116.4 L1538.0 1115.5 L1539.5 1116.8 L1541.0 1115.7 L1542.5 1115.4 L1544.0 1114.9 L1545.5 1114.2 L1547.0 1113.7 L1548.5 1112.5 L1550.0 1112.7 L1551.5 1112.4 L1553.0 1113.1 L1554.5 1114.4 L1556.0 1114.5 L1557.5 1114.8 L1559.0 1114.6 L1560.5 1113.3 L1562.0 1113.5 L1563.5 1113.5 L1565.0 1113.4 L1566.5 1113.6 L1568.0 1112.6 L1569.5 1112.5 L1571.0 1112.6 L1572.5 1113.7 L1574.0 1115.1 L1575.5 1115.9 L1577.0 1115.9 L1578.5 1115.9 L1580.0 1115.2 L1581.5 1114.9 L1583.0 1115.1 L1584.5 1115.8 L1586.0 1116.0 L1587.5 1115.2 L1589.0 1115.4 L1590.5 1113.8 L1592.0 1113.7 L1593.5 1114.1 L1595.0 1113.1 L1596.5 1114.0 L1598.0 1114.3 L1599.5 1114.2 L1601.0 1114.6 L1602.5 1113.8 L1604.0 1113.8 L1605.5 1113.9 L1607.0 1113.6 L1608.5 1113.5 L1610.0 1113.0 L1611.5 1113.3 L1613.0 1113.2 L1614.5 1113.5 L1616.0 1113.9 L1617.5 1114.8 L1619.0 1115.6 L1620.5 1114.3 L1622.0 1113.9 L1623.5 1112.6 L1625.0 1112.4 L1626.5 1114.4 L1628.0 1115.0 L1629.5 1114.1 L1631.0 1114.1 L1632.5 1113.5 L1634.0 1113.3 L1635.5 1115.0 L1637.0 1114.4 L1638.5 1114.8 L1640.0 1113.9 L1641.5 1113.3 L1643.0 1113.9 L1644.5 1114.5 L1646.0 1114.9 L1647.5 1114.1 L1649.0 1114.3 L1650.5 1112.9 L1652.0 1114.0 L1653.5 1114.4 L1655.0 1113.7 L1656.5 1114.6 L1658.0 1113.9 L1659.5 1114.7 L1661.0 1114.4 L1662.5 1114.6 L1664.0 1114.3 L1665.5 1114.2 L1667.0 1114.4 L1668.5 1113.0 L1670.0 1113.1 L1671.5 1112.8 L1673.0 1114.0 L1674.5 1114.8 L1676.0 1115.3 L1677.5 1115.5 L1679.0 1116.2 L1680.5 1115.6 L1682.0 1115.9 L1683.5 1115.5 L1685.0 1114.2 L1686.5 1114.4 L1688.0 1114.3 L1689.5 1113.8 L1691.0 1113.1 L1692.5 1113.3 L1694.0 1112.2 L1695.5 1113.1 L1697.0 1114.1 L1698.5 1113.9 L1700.0 1114.7 L1701.5 1114.1 L1703.0 1113.7 L1704.5 1114.0 L1706.0 1114.5 L1707.5 1114.8 L1709.0 1114.4 L1710.5 1114.0 L1712.0 1113.7 L1713.5 1113.0 L1715.0 1113.2 L1716.5 1113.4 L1718.0 1111.8 L1719.5 1112.3 L1721.0 1113.0 L1722.5 1113.2 L1724.0 1113.9 L1725.5 1114.5 L1727.0 1114.2 L1728.5 1115.0 L1730.0 1115.1 L1731.5 1114.6 L1733.0 1114.4 L1734.5 1113.4 L1736.0 1113.8 L1737.5 1113.9 L1739.0 1113.6 L1740.5 1113.0 L1742.0 1112.7 L1743.5 1112.1 L1745.0 1111.9 L1746.5 1112.4 L1748.0 1112.9 L1749.5 1113.9 L1751.0 1113.9 L1752.5 1114.3 L1754.0 1114.4 L1755.5 1114.0 L1757.0 1113.7 L1758.5 1112.6 L1760.0 1112.6 L1761.5 1113.0 L1763.0 1113.9 L1764.5 1114.4 L1766.0 1114.7 L1767.5 1114.8 L1769.0 1114.7 L1770.5 1115.0 L1772.0 1113.5 L1773.5 1113.3 L1775.0 1112.6 L1776.5 1113.0 L1778.0 1114.2 L1779.5 1113.9 L1781.0 1115.3 L1782.5 1114.9 L1784.0 1114.8 L1785.5 1115.1 L1787.0 1114.5 L1788.5 1114.5 L1790.0 1114.8 L1791.5 1114.6 L1793.0 1114.4 L1794.5 1114.5 L1796.0 1114.0 L1797.5 1114.9 L1799.0 1115.0 L1800.5 1115.0 L1802.0 1114.4 L1803.5 1112.9 L1805.0 1112.0 L1806.5 1112.2 L1808.0 1112.7 L1809.5 1112.8 L1811.0 1112.9 L1812.5 1112.7 L1814.0 1112.4 L1815.5 1112.3 L1817.0 1113.1 L1818.5 1113.3 L1820.0 1113.5 L1821.5 1114.5 L1823.0 1114.0 L1824.5 1114.6 L1826.0 1114.2 L1827.5 1114.0 L1829.0 1114.6 L1830.5 1113.9 L1832.0 1114.5 L1833.5 1113.7 L1835.0 1112.7 L1836.5 1112.8 L1838.0 1112.3 L1839.5 1113.1 L1841.0 1113.8 L1842.5 1114.2 L1844.0 1114.6 L1845.5 1114.5 L1847.0 1114.5 L1848.5 1114.1 L1850.0 1113.7 L1851.5 1114.5 L1853.0 1113.7 L1854.5 1113.8 L1856.0 1114.4 L1857.5 1113.7 L1859.0 1115.1 L1860.5 1115.5 L1862.0 1114.4 L1863.5 1114.1 L1865.0 1112.8 L1866.5 1113.0 L1868.0 1114.3 L1869.5 1114.2 L1871.0 1115.1 L1872.5 1114.4 L1874.0 1113.1 L1875.5 1113.1 L1877.0 1112.2 L1878.5 1112.1 L1880.0 1112.9 L1881.5 1113.4 L1883.0 1114.7 L1884.5 1114.8 L1886.0 1114.8 L1887.5 1114.7 L1889.0 1114.3 L1890.5 1113.2 L1892.0 1112.7 L1893.5 1112.9 L1895.0 1112.1 L1896.5 1113.5 L1898.0 1114.3 L1899.5 1113.0 L1901.0 1113.5 L1902.5 1113.5 L1904.0 1113.1 L1905.5 1113.2 L1907.0 1113.5 L1908.5 1113.1 L1910.0 1113.5 L1911.5 1114.4 L1913.0 1114.0 L1914.5 1114.3 L1916.0 1113.6 L1917.5 1113.1 L1919.0 1112.6 L1920.5 1112.4 L1922.0 1113.1 L1923.5 1113.5 L1925.0 1114.2 L1926.5 1114.0 L1928.0 1113.4 L1929.5 1113.7 L1931.0 1113.0 L1932.5 1114.2 L1934.0 1114.4 L1935.5 1115.1 L1937.0 1116.2 L1938.5 1115.1 L1940.0 1115.5 L1941.5 1114.6 L1943.0 1114.3 L1944.5 1114.8 L1946.0 1114.3 L1947.5 1113.9 L1949.0 1113.5 L1950.5 1112.5 L1952.0 1112.6 L1953.5 1113.0 L1955.0 1113.3 L1956.5 1114.0 L1958.0 1113.9 L1959.5 1114.2 L1961.0 1113.1 L1962.5 1112.9 L1964.0 1112.9 L1965.5 1112.9 L1967.0 1114.2 L1968.5 1114.7 L1970.0 1114.8 L1971.5 1114.9 L1973.0 1114.1 L1974.5 1113.8 L1976.0 1112.8 L1977.5 1113.1 L1979.0 1114.3 L1980.5 1114.0 L1982.0 1114.6 L1983.5 1112.9 L1985.0 1111.4 L1986.5 1111.8 L1988.0 1112.1 L1989.5 1112.4 L1991.0 1112.8 L1992.5 1112.5 L1994.0 1112.8 L1995.5 1113.7 L1997.0 1113.9 L1998.5 1114.2 L2000.0 1114.0 L2001.5 1112.7 L2003.0 1112.9 L2004.5 1112.8 L2006.0 1113.2 L2007.5 1113.3 L2009.0 1113.6 L2010.5 1113.3 L2012.0 1113.1 L2013.5 1114.5 L2015.0 1113.5 L2016.5 1113.2 L2018.0 1113.5 L2019.5 1112.4 L2021.0 1112.7 L2022.5 1113.5 L2024.0 1113.0 L2025.5 1113.8 L2027.0 1114.4 L2028.5 1114.1 L2030.0 1114.7 L2031.5 1115.3 L2033.0 1115.1 L2034.5 1115.8 L2036.0 1115.9 L2037.5 1114.9 L2039.0 1115.2 L2040.5 1114.1 L2042.0 1113.3 L2043.5 1113.4 L2045.0 1113.2 L2046.5 1114.2 L2048.0 1113.9 L2049.5 1113.6 L2051.0 1113.3 L2052.5 1112.7 L2054.0 1113.8 L2055.5 1113.4 L2057.0 1114.1 L2058.5 1113.9 L2060.0 1113.2 L2061.5 1114.2 L2063.0 1113.7 L2064.5 1114.2 L2066.0 1114.4 L2067.5 1113.9 L2069.0 1113.9 L2070.5 1112.8 L2072.0 1112.4 L2073.5 1112.6 L2075.0 1112.8 L2076.5 1112.9 L2078.0 1113.7 L2079.5 1113.9 L2081.0 1113.2 L2082.5 1113.4 L2084.0 1113.2 L2085.5 1112.2 L2087.0 1112.4 L2088.5 1112.9 L2090.0 1112.6 L2091.5 1113.3 L2093.0 1113.9 L2094.5 1113.5 L2096.0 1113.4 L2097.5 1114.3 L2099.0 1113.5 L2100.5 1113.7 L2102.0 1113.9 L2103.5 1112.7 L2105.0 1113.9 L2106.5 1114.1 L2108.0 1114.4 L2109.5 1113.5 L2111.0 1113.5 L2112.5 1114.0 L2114.0 1113.3 L2115.5 1115.1 L2117.0 1114.7 L2118.5 1114.6 L2120.0 1115.8 L2121.5 1115.2 L2123.0 1114.6 L2124.5 1114.2 L2126.0 1112.8 L2127.5 1112.4 L2129.0 1112.5 L2130.5 1112.2 L2132.0 1113.3 L2133.5 1114.1 L2135.0 1114.0 L2136.5 1114.8 L2138.0 1113.6 L2139.5 1112.9 L2141.0 1113.2 L2142.5 1113.3 L2144.0 1114.4 L2145.5 1114.9 L2147.0 1115.5 L2148.5 1115.3 L2150.0 1115.6 L2151.5 1115.0 L2153.0 1113.7 L2154.5 1113.2 L2156.0 1112.9 L2157.5 1113.4 L2159.0 1114.6 L2160.5 1115.1 L2162.0 1114.9 L2163.5 1115.2 L2165.0 1114.5 L2166.5 1114.7 L2168.0 1114.0 L2169.5 1113.5 L2171.0 1113.2 L2172.5 1113.0 L2174.0 1112.7 L2175.5 1113.4 L2177.0 1113.4 L2178.5 1113.3 L2180.0 1114.0 L2181.5 1112.9 L2183.0 1114.1 L2184.5 1113.8 L2186.0 1114.5 L2187.5 1114.5 L2189.0 1113.5 L2190.5 1112.8 L2192.0 1112.4 L2193.5 1113.3 L2195.0 1113.7 L2196.5 1114.6 L2198.0 1113.9 L2199.5 1114.6 L2201.0 1114.8 L2202.5 1114.0 L2204.0 1114.3 L2205.5 1112.1 L2207.0 1112.5 L2208.5 1114.2 L2210.0 1115.0 L2211.5 1116.1 L2213.0 1115.1 L2214.5 1113.6 L2216.0 1113.2 L2217.5 1112.9 L2219.0 1113.0 L2220.5 1113.3 L2222.0 1113.0 L2223.5 1113.7 L2225.0 1114.6 L2226.5 1115.0 L2228.0 1115.2"/>
<path class="ln" stroke="#ff0000" d="M218.0 858.0 L219.5 864.2 L221.0 870.0 L222.5 876.3 L224.0 883.1 L225.5 889.2 L227.0 893.4 L228.5 894.4 L230.0 894.3 L231.5 894.2 L233.0 894.0 L234.5 893.7 L236.0 893.4 L237.5 893.1 L239.0 892.7 L240.5 892.0 L242.0 891.2 L243.5 890.4 L245.0 889.5 L246.5 888.7 L248.0 888.0 L249.5 887.6 L251.0 887.4 L252.5 887.2 L254.0 887.1 L255.5 887.0 L257.0 886.8 L258.5 886.6 L260.0 886.3 L261.5 886.1 L263.0 885.9 L264.5 885.7 L266.0 885.6 L267.5 885.7 L269.0 886.0 L270.5 886.5 L272.0 887.2 L273.5 888.0 L275.0 889.0 L276.5 889.9 L278.0 891.0 L279.5 892.3 L281.0 893.9 L282.5 895.7 L284.0 897.8 L285.5 900.1 L287.0 902.5 L288.5 905.4 L290.0 908.8 L291.5 912.3 L293.0 915.8 L294.5 919.0 L296.0 922.0 L297.5 925.0 L299.0 928.0 L300.5 931.0 L302.0 934.0 L303.5 937.0 L305.0 940.1 L306.5 943.3 L308.0 946.4 L309.5 949.3 L311.0 952.0 L312.5 954.5 L314.0 956.8 L315.5 959.1 L317.0 961.2 L318.5 963.2 L320.0 965.0 L321.5 966.8 L323.0 968.5 L324.5 970.2 L326.0 971.8 L327.5 973.2 L329.0 974.4 L330.5 975.3 L332.0 976.1 L333.5 976.9 L335.0 977.7 L336.5 978.4 L338.0 978.9 L339.5 979.2 L341.0 979.4 L342.5 979.4 L344.0 979.2 L345.5 978.9 L347.0 978.5 L348.5 978.1 L350.0 977.6 L351.5 977.1 L353.0 976.6 L354.5 976.1 L356.0 975.5 L357.5 974.8 L359.0 974.1 L360.5 973.3 L362.0 972.5 L363.5 971.5 L365.0 970.6 L366.5 969.5 L368.0 968.4 L369.5 967.1 L371.0 965.7 L372.5 964.1 L374.0 962.3 L375.5 960.5 L377.0 958.7 L378.5 956.9 L380.0 955.1 L381.5 953.3 L383.0 951.4 L384.5 949.5 L386.0 947.5 L387.5 945.5 L389.0 943.3 L390.5 940.9 L392.0 938.4 L393.5 935.7 L395.0 932.9 L396.5 929.9 L398.0 926.9 L399.5 923.8 L401.0 920.6 L402.5 917.2 L404.0 913.6 L405.5 910.0 L407.0 906.2 L408.5 902.3 L410.0 898.2 L411.5 894.0 L413.0 889.6 L414.5 885.1 L416.0 880.4 L417.5 875.0 L419.0 868.5 L420.5 861.0 L422.0 853.6 L423.5 846.9 L425.0 840.5 L426.5 834.4 L428.0 828.8 L429.5 823.6 L431.0 818.6 L432.5 813.7 L434.0 808.8 L435.5 803.6 L437.0 798.1 L438.5 792.7 L440.0 787.2 L441.5 781.8 L443.0 776.2 L444.5 770.4 L446.0 764.4 L447.5 757.9 L449.0 750.9 L450.5 743.3 L452.0 735.0 L453.5 724.5 L455.0 712.1 L456.5 700.0 L458.0 689.0 L459.5 678.3 L461.0 667.7 L462.5 657.3 L464.0 647.1 L465.5 636.9 L467.0 626.8 L468.5 616.7 L470.0 606.7 L471.5 596.6 L473.0 586.5 L474.5 576.3 L476.0 566.0 L477.5 555.7 L479.0 545.4 L480.5 535.0 L482.0 524.7 L483.5 514.4 L485.0 504.1 L486.5 493.8 L488.0 483.4 L489.5 473.1 L491.0 462.7 L492.5 452.3 L494.0 441.9 L495.5 431.5 L497.0 421.0 L498.5 410.5 L500.0 400.0 L501.5 389.2 L503.0 378.2 L504.5 367.1 L506.0 356.2 L507.5 345.6 L509.0 335.7 L510.5 326.3 L512.0 317.3 L513.5 308.6 L515.0 300.1 L516.5 291.8 L518.0 283.7 L519.5 275.7 L521.0 267.9 L522.5 260.2 L524.0 252.5 L525.5 244.9 L527.0 237.2 L528.5 229.6 L530.0 222.2 L531.5 215.0 L533.0 208.2 L534.5 202.0 L536.0 196.1 L537.5 190.3 L539.0 185.1 L540.5 181.0 L542.0 178.2 L543.5 175.7 L545.0 173.7 L546.5 172.8 L548.0 173.0 L549.5 174.2 L551.0 176.1 L552.5 178.2 L554.0 180.4 L555.5 182.4 L557.0 184.3 L558.5 186.2 L560.0 188.4 L561.5 191.0 L563.0 193.9 L564.5 197.3 L566.0 201.5 L567.5 207.3 L569.0 217.2 L570.5 228.1 L572.0 236.6 L573.5 244.4 L575.0 253.0 L576.5 262.4 L578.0 272.2 L579.5 282.4 L581.0 293.0 L582.5 304.0 L584.0 315.2 L585.5 326.7 L587.0 338.5 L588.5 350.7 L590.0 363.3 L591.5 376.3 L593.0 389.8 L594.5 403.7 L596.0 418.0 L597.5 432.7 L599.0 448.0 L600.5 463.6 L602.0 479.7 L603.5 496.1 L605.0 512.9 L606.5 530.0 L608.0 547.4 L609.5 565.0 L611.0 583.0 L612.5 601.6 L614.0 620.6 L615.5 640.0 L617.0 659.8 L618.5 679.8 L620.0 700.0 L621.5 721.4 L623.0 741.2 L624.5 759.1 L626.0 776.0 L627.5 792.2 L629.0 808.0 L630.5 823.6 L632.0 839.3 L633.5 855.3 L635.0 872.2 L636.5 889.4 L638.0 906.3 L639.5 922.2 L641.0 936.6 L642.5 948.9 L644.0 959.9 L645.5 970.2 L647.0 979.8 L648.5 988.8 L650.0 997.2 L651.5 1005.3 L653.0 1013.0 L654.5 1020.4 L656.0 1027.6 L657.5 1034.5 L659.0 1041.0 L660.5 1047.2 L662.0 1053.0 L663.5 1058.3 L665.0 1063.3 L666.5 1068.1 L668.0 1072.8 L669.5 1077.2 L671.0 1081.2 L672.5 1084.9 L674.0 1088.1 L675.5 1090.9 L677.0 1093.4 L678.5 1095.9 L680.0 1098.1 L681.5 1100.0 L683.0 1101.6 L684.5 1102.7 L686.0 1103.5 L687.5 1104.1 L689.0 1104.7 L690.5 1105.2 L692.0 1105.6 L693.5 1106.0 L695.0 1106.3 L696.5 1106.6 L698.0 1106.9 L699.5 1107.1 L701.0 1107.3 L702.5 1107.5 L704.0 1107.7 L705.5 1107.9 L707.0 1108.1 L708.5 1108.3 L710.0 1108.4 L711.5 1108.6 L713.0 1108.7 L714.5 1108.8 L716.0 1109.0 L717.5 1109.1 L719.0 1109.2 L720.5 1109.3 L722.0 1109.4 L723.5 1109.5 L725.0 1109.6 L726.5 1109.7 L728.0 1109.7 L729.5 1109.8 L731.0 1109.8 L732.5 1109.9 L734.0 1109.9 L735.5 1110.0 L737.0 1110.0 L738.5 1110.1 L740.0 1110.1 L741.5 1110.2 L743.0 1110.2 L744.5 1110.3 L746.0 1110.3 L747.5 1110.3 L749.0 1110.4 L750.5 1110.4 L752.0 1110.4 L753.5 1110.5 L755.0 1110.5 L756.5 1110.5 L758.0 1110.5 L759.5 1110.5 L761.0 1110.5 L762.5 1110.5 L764.0 1110.5 L765.5 1110.5 L767.0 1110.5 L768.5 1110.5 L770.0 1110.5 L771.5 1110.5 L773.0 1110.4 L774.5 1110.4 L776.0 1110.4 L777.5 1110.4 L779.0 1110.4 L780.5 1110.4 L782.0 1110.3 L783.5 1110.3 L785.0 1110.3 L786.5 1110.3 L788.0 1110.2 L789.5 1110.2 L791.0 1110.2 L792.5 1110.1 L794.0 1110.1 L795.5 1110.1 L797.0 1110.0 L798.5 1110.0 L800.0 1110.0 L801.5 1109.9 L803.0 1109.9 L804.5 1109.9 L806.0 1109.8 L807.5 1109.8 L809.0 1109.7 L810.5 1109.7 L812.0 1109.6 L813.5 1109.6 L815.0 1109.5 L816.5 1109.5 L818.0 1109.5 L819.5 1109.4 L821.0 1109.4 L822.5 1109.3 L824.0 1109.2 L825.5 1109.2 L827.0 1109.1 L828.5 1109.0 L830.0 1108.9 L831.5 1108.8 L833.0 1108.7 L834.5 1108.5 L836.0 1108.4 L837.5 1108.2 L839.0 1108.1 L840.5 1107.9 L842.0 1107.7 L843.5 1107.6 L845.0 1107.4 L846.5 1107.2 L848.0 1107.0 L849.5 1106.8 L851.0 1106.6 L852.5 1106.5 L854.0 1106.3 L855.5 1106.1 L857.0 1105.9 L858.5 1105.7 L860.0 1105.5 L861.5 1105.3 L863.0 1105.1 L864.5 1104.9 L866.0 1104.7 L867.5 1104.4 L869.0 1104.2 L870.5 1104.0 L872.0 1103.7 L873.5 1103.5 L875.0 1103.2 L876.5 1103.0 L878.0 1102.7 L879.5 1102.5 L881.0 1102.2 L882.5 1102.0 L884.0 1101.8 L885.5 1101.6 L887.0 1101.3 L888.5 1101.1 L890.0 1100.9 L891.5 1100.7 L893.0 1100.4 L894.5 1100.2 L896.0 1100.0 L897.5 1099.7 L899.0 1099.5 L900.5 1099.2 L902.0 1099.0 L903.5 1098.7 L905.0 1098.4 L906.5 1098.1 L908.0 1097.8 L909.5 1097.5 L911.0 1097.1 L912.5 1096.8 L914.0 1096.4 L915.5 1096.1 L917.0 1095.7 L918.5 1095.3 L920.0 1094.8 L921.5 1094.4 L923.0 1094.0 L924.5 1093.5 L926.0 1093.1 L927.5 1092.6 L929.0 1092.1 L930.5 1091.7 L932.0 1091.2 L933.5 1090.7 L935.0 1090.2 L936.5 1089.7 L938.0 1089.2 L939.5 1088.7 L941.0 1088.1 L942.5 1087.6 L944.0 1087.0 L945.5 1086.4 L947.0 1085.9 L948.5 1085.3 L950.0 1084.7 L951.5 1084.0 L953.0 1083.4 L954.5 1082.8 L956.0 1082.1 L957.5 1081.5 L959.0 1080.8 L960.5 1080.1 L962.0 1079.4 L963.5 1078.7 L965.0 1078.0 L966.5 1077.3 L968.0 1076.6 L969.5 1075.8 L971.0 1075.1 L972.5 1074.3 L974.0 1073.5 L975.5 1072.7 L977.0 1071.9 L978.5 1071.1 L980.0 1070.2 L981.5 1069.4 L983.0 1068.5 L984.5 1067.6 L986.0 1066.7 L987.5 1065.8 L989.0 1064.9 L990.5 1064.0 L992.0 1063.1 L993.5 1062.1 L995.0 1061.1 L996.5 1060.1 L998.0 1059.0 L999.5 1058.0 L1001.0 1056.9 L1002.5 1055.8 L1004.0 1054.8 L1005.5 1053.7 L1007.0 1052.6 L1008.5 1051.6 L1010.0 1050.5 L1011.5 1049.4 L1013.0 1048.3 L1014.5 1047.3 L1016.0 1046.2 L1017.5 1045.1 L1019.0 1044.0 L1020.5 1042.9 L1022.0 1041.8 L1023.5 1040.7 L1025.0 1039.6 L1026.5 1038.5 L1028.0 1037.4 L1029.5 1036.3 L1031.0 1035.2 L1032.5 1034.0 L1034.0 1032.9 L1035.5 1031.8 L1037.0 1030.7 L1038.5 1029.5 L1040.0 1028.4 L1041.5 1027.3 L1043.0 1026.1 L1044.5 1025.0 L1046.0 1023.9 L1047.5 1022.7 L1049.0 1021.6 L1050.5 1020.4 L1052.0 1019.3 L1053.5 1018.1 L1055.0 1016.9 L1056.5 1015.7 L1058.0 1014.5 L1059.5 1013.4 L1061.0 1012.2 L1062.5 1011.0 L1064.0 1009.7 L1065.5 1008.5 L1067.0 1007.3 L1068.5 1006.1 L1070.0 1004.9 L1071.5 1003.7 L1073.0 1002.5 L1074.5 1001.2 L1076.0 1000.0 L1077.5 998.8 L1079.0 997.6 L1080.5 996.4 L1082.0 995.2 L1083.5 994.0 L1085.0 992.8 L1086.5 991.6 L1088.0 990.5 L1089.5 989.3 L1091.0 988.1 L1092.5 986.9 L1094.0 985.8 L1095.5 984.6 L1097.0 983.4 L1098.5 982.1 L1100.0 980.9 L1101.5 979.7 L1103.0 978.5 L1104.5 977.3 L1106.0 976.1 L1107.5 974.9 L1109.0 973.7 L1110.5 972.5 L1112.0 971.4 L1113.5 970.2 L1115.0 969.1 L1116.5 968.0 L1118.0 966.9 L1119.5 965.8 L1121.0 964.8 L1122.5 963.8 L1124.0 962.8 L1125.5 961.9 L1127.0 961.0 L1128.5 960.1 L1130.0 959.2 L1131.5 958.4 L1133.0 957.5 L1134.5 956.7 L1136.0 955.8 L1137.5 955.0 L1139.0 954.2 L1140.5 953.4 L1142.0 952.6 L1143.5 951.8 L1145.0 951.0 L1146.5 950.3 L1148.0 949.6 L1149.5 948.8 L1151.0 948.2 L1152.5 947.5 L1154.0 946.8 L1155.5 946.2 L1157.0 945.6 L1158.5 945.0 L1160.0 944.4 L1161.5 943.9 L1163.0 943.4 L1164.5 942.9 L1166.0 942.4 L1167.5 941.9 L1169.0 941.4 L1170.5 940.9 L1172.0 940.4 L1173.5 940.0 L1175.0 939.5 L1176.5 939.1 L1178.0 938.7 L1179.5 938.3 L1181.0 938.0 L1182.5 937.7 L1184.0 937.5 L1185.5 937.4 L1187.0 937.3 L1188.5 937.3 L1190.0 937.4 L1191.5 937.5 L1193.0 937.7 L1194.5 938.0 L1196.0 938.2 L1197.5 938.6 L1199.0 938.9 L1200.5 939.3 L1202.0 939.7 L1203.5 940.1 L1205.0 940.5 L1206.5 940.9 L1208.0 941.3 L1209.5 941.6 L1211.0 942.1 L1212.5 942.5 L1214.0 943.0 L1215.5 943.5 L1217.0 944.0 L1218.5 944.5 L1220.0 945.1 L1221.5 945.8 L1223.0 946.5 L1224.5 947.2 L1226.0 948.1 L1227.5 949.1 L1229.0 950.4 L1230.5 951.7 L1232.0 953.2 L1233.5 954.7 L1235.0 956.2 L1236.5 957.7 L1238.0 959.1 L1239.5 960.4 L1241.0 961.7 L1242.5 962.9 L1244.0 964.1 L1245.5 965.3 L1247.0 966.5 L1248.5 967.7 L1250.0 969.0 L1251.5 970.3 L1253.0 971.6 L1254.5 972.9 L1256.0 974.2 L1257.5 975.6 L1259.0 976.9 L1260.5 978.3 L1262.0 979.6 L1263.5 981.0 L1265.0 982.4 L1266.5 983.8 L1268.0 985.3 L1269.5 986.8 L1271.0 988.3 L1272.5 989.9 L1274.0 991.5 L1275.5 993.1 L1277.0 994.8 L1278.5 996.5 L1280.0 998.4 L1281.5 1000.3 L1283.0 1002.3 L1284.5 1004.3 L1286.0 1006.4 L1287.5 1008.5 L1289.0 1010.6 L1290.5 1012.8 L1292.0 1015.0 L1293.5 1017.2 L1295.0 1019.4 L1296.5 1021.6 L1298.0 1023.8 L1299.5 1026.0 L1301.0 1028.3 L1302.5 1030.7 L1304.0 1033.0 L1305.5 1035.4 L1307.0 1037.8 L1308.5 1040.2 L1310.0 1042.6 L1311.5 1044.9 L1313.0 1047.2 L1314.5 1049.4 L1316.0 1051.5 L1317.5 1053.7 L1319.0 1055.8 L1320.5 1057.9 L1322.0 1060.0 L1323.5 1061.9 L1325.0 1063.8 L1326.5 1065.6 L1328.0 1067.3 L1329.5 1068.9 L1331.0 1070.3 L1332.5 1071.7 L1334.0 1073.1 L1335.5 1074.4 L1337.0 1075.7 L1338.5 1076.9 L1340.0 1078.2 L1341.5 1079.5 L1343.0 1080.8 L1344.5 1082.1 L1346.0 1083.4 L1347.5 1084.8 L1349.0 1086.1 L1350.5 1087.3 L1352.0 1088.4 L1353.5 1089.5 L1355.0 1090.4 L1356.5 1091.4 L1358.0 1092.3 L1359.5 1093.2 L1361.0 1094.0 L1362.5 1094.9 L1364.0 1095.6 L1365.5 1096.4 L1367.0 1097.2 L1368.5 1097.9 L1370.0 1098.6 L1371.5 1099.3 L1373.0 1100.0 L1374.5 1100.6 L1376.0 1101.3 L1377.5 1101.9 L1379.0 1102.5 L1380.5 1103.0 L1382.0 1103.5 L1383.5 1104.0 L1385.0 1104.4 L1386.5 1104.9 L1388.0 1105.3 L1389.5 1105.7 L1391.0 1106.1 L1392.5 1106.5 L1394.0 1106.8 L1395.5 1107.1 L1397.0 1107.4 L1398.5 1107.7 L1400.0 1108.0 L1401.5 1108.2 L1403.0 1108.5 L1404.5 1108.7 L1406.0 1109.0 L1407.5 1109.2 L1409.0 1109.4 L1410.5 1109.6 L1412.0 1109.8 L1413.5 1110.0 L1415.0 1110.1 L1416.5 1110.3 L1418.0 1110.4 L1419.5 1110.5 L1421.0 1110.6 L1422.5 1110.6 L1424.0 1110.7 L1425.5 1110.8 L1427.0 1110.9 L1428.5 1110.9 L1430.0 1111.0 L1431.5 1111.1 L1433.0 1111.1 L1434.5 1111.2 L1436.0 1111.2 L1437.5 1111.3 L1439.0 1111.3 L1440.5 1111.4 L1442.0 1111.4 L1443.5 1111.4 L1445.0 1111.5 L1446.5 1111.5 L1448.0 1111.5 L1449.5 1111.5 L1451.0 1111.5 L1452.5 1111.5 L1454.0 1111.5 L1455.5 1111.5 L1457.0 1111.5 L1458.5 1111.5 L1460.0 1111.5 L1461.5 1111.5 L1463.0 1111.5 L1464.5 1111.5 L1466.0 1111.5 L1467.5 1111.5 L1469.0 1111.5 L1470.5 1111.5 L1472.0 1111.5 L1473.5 1111.5 L1475.0 1111.5 L1476.5 1111.5 L1478.0 1111.5 L1479.5 1111.5 L1481.0 1110.8 L1482.5 1111.1 L1484.0 1111.8 L1485.5 1112.8 L1487.0 1113.1 L1488.5 1113.2 L1490.0 1112.2 L1491.5 1111.8 L1493.0 1111.3 L1494.5 1111.2 L1496.0 1111.0 L1497.5 1110.4 L1499.0 1110.8 L1500.5 1110.8 L1502.0 1110.7 L1503.5 1110.9 L1505.0 1110.9 L1506.5 1110.8 L1508.0 1111.0 L1509.5 1111.3 L1511.0 1111.1 L1512.5 1111.7 L1514.0 1112.3 L1515.5 1111.7 L1517.0 1110.8 L1518.5 1110.2 L1520.0 1110.5 L1521.5 1111.2 L1523.0 1112.6 L1524.5 1112.3 L1526.0 1111.1 L1527.5 1111.4 L1529.0 1111.0 L1530.5 1111.6 L1532.0 1111.6 L1533.5 1111.3 L1535.0 1111.0 L1536.5 1111.0 L1538.0 1111.4 L1539.5 1111.0 L1541.0 1111.1 L1542.5 1111.3 L1544.0 1111.5 L1545.5 1111.5 L1547.0 1111.3 L1548.5 1110.2 L1550.0 1110.9 L1551.5 1110.4 L1553.0 1110.5 L1554.5 1111.2 L1556.0 1111.1 L1557.5 1111.9 L1559.0 1112.6 L1560.5 1112.7 L1562.0 1112.6 L1563.5 1112.7 L1565.0 1113.1 L1566.5 1112.8 L1568.0 1113.1 L1569.5 1112.6 L1571.0 1112.2 L1572.5 1111.6 L1574.0 1110.2 L1575.5 1110.9 L1577.0 1110.2 L1578.5 1110.9 L1580.0 1111.1 L1581.5 1111.6 L1583.0 1112.0 L1584.5 1111.3 L1586.0 1111.9 L1587.5 1111.5 L1589.0 1111.2 L1590.5 1111.9 L1592.0 1112.8 L1593.5 1112.8 L1595.0 1113.1 L1596.5 1112.6 L1598.0 1112.0 L1599.5 1110.9 L1601.0 1109.5 L1602.5 1109.5 L1604.0 1108.8 L1605.5 1110.2 L1607.0 1111.7 L1608.5 1111.5 L1610.0 1111.5 L1611.5 1110.9 L1613.0 1110.5 L1614.5 1110.7 L1616.0 1111.2 L1617.5 1111.0 L1619.0 1111.4 L1620.5 1111.7 L1622.0 1112.3 L1623.5 1113.1 L1625.0 1112.3 L1626.5 1113.4 L1628.0 1112.9 L1629.5 1112.7 L1631.0 1113.1 L1632.5 1112.1 L1634.0 1112.1 L1635.5 1111.6 L1637.0 1112.3 L1638.5 1112.4 L1640.0 1111.9 L1641.5 1111.8 L1643.0 1111.7 L1644.5 1111.8 L1646.0 1112.1 L1647.5 1112.0 L1649.0 1111.6 L1650.5 1110.8 L1652.0 1110.4 L1653.5 1111.2 L1655.0 1111.1 L1656.5 1111.6 L1658.0 1111.9 L1659.5 1111.7 L1661.0 1112.7 L1662.5 1112.6 L1664.0 1113.1 L1665.5 1112.2 L1667.0 1112.2 L1668.5 1112.7 L1670.0 1112.1 L1671.5 1113.0 L1673.0 1112.4 L1674.5 1112.2 L1676.0 1112.7 L1677.5 1111.8 L1679.0 1111.4 L1680.5 1111.5 L1682.0 1111.3 L1683.5 1111.2 L1685.0 1112.4 L1686.5 1112.0 L1688.0 1111.8 L1689.5 1111.9 L1691.0 1111.3 L1692.5 1111.8 L1694.0 1112.2 L1695.5 1112.9 L1697.0 1111.9 L1698.5 1111.3 L1700.0 1111.0 L1701.5 1110.6 L1703.0 1111.5 L1704.5 1110.7 L1706.0 1112.3 L1707.5 1111.9 L1709.0 1111.9 L1710.5 1113.2 L1712.0 1112.1 L1713.5 1112.6 L1715.0 1111.2 L1716.5 1110.3 L1718.0 1110.3 L1719.5 1109.7 L1721.0 1110.6 L1722.5 1110.0 L1724.0 1110.2 L1725.5 1110.8 L1727.0 1110.9 L1728.5 1111.9 L1730.0 1111.3 L1731.5 1110.6 L1733.0 1110.8 L1734.5 1111.0 L1736.0 1111.3 L1737.5 1112.4 L1739.0 1112.5 L1740.5 1112.2 L1742.0 1112.1 L1743.5 1111.2 L1745.0 1110.7 L1746.5 1111.4 L1748.0 1111.0 L1749.5 1111.4 L1751.0 1112.2 L1752.5 1111.2 L1754.0 1111.7 L1755.5 1111.8 L1757.0 1111.5 L1758.5 1112.2 L1760.0 1111.5 L1761.5 1110.3 L1763.0 1110.3 L1764.5 1109.7 L1766.0 1110.4 L1767.5 1111.5 L1769.0 1111.4 L1770.5 1111.8 L1772.0 1112.0 L1773.5 1112.4 L1775.0 1112.8 L1776.5 1113.0 L1778.0 1112.3 L1779.5 1111.7 L1781.0 1111.8 L1782.5 1111.6 L1784.0 1111.8 L1785.5 1111.4 L1787.0 1110.4 L1788.5 1109.6 L1790.0 1109.3 L1791.5 1110.4 L1793.0 1111.7 L1794.5 1112.0 L1796.0 1111.5 L1797.5 1111.3 L1799.0 1110.9 L1800.5 1110.8 L1802.0 1112.0 L1803.5 1111.7 L1805.0 1112.1 L1806.5 1112.8 L1808.0 1112.8 L1809.5 1112.8 L1811.0 1111.8 L1812.5 1111.5 L1814.0 1110.8 L1815.5 1111.1 L1817.0 1111.0 L1818.5 1110.5 L1820.0 1111.1 L1821.5 1111.2 L1823.0 1112.3 L1824.5 1113.5 L1826.0 1112.5 L1827.5 1111.7 L1829.0 1110.8 L1830.5 1110.3 L1832.0 1110.0 L1833.5 1110.3 L1835.0 1110.7 L1836.5 1110.2 L1838.0 1111.3 L1839.5 1111.8 L1841.0 1111.7 L1842.5 1112.6 L1844.0 1113.0 L1845.5 1112.7 L1847.0 1112.8 L1848.5 1112.2 L1850.0 1112.3 L1851.5 1111.9 L1853.0 1111.4 L1854.5 1111.9 L1856.0 1111.0 L1857.5 1111.4 L1859.0 1112.2 L1860.5 1111.9 L1862.0 1112.3 L1863.5 1112.5 L1865.0 1112.4 L1866.5 1111.6 L1868.0 1111.0 L1869.5 1111.2 L1871.0 1111.0 L1872.5 1110.8 L1874.0 1110.8 L1875.5 1110.2 L1877.0 1109.6 L1878.5 1110.7 L1880.0 1111.3 L1881.5 1111.6 L1883.0 1111.5 L1884.5 1111.5 L1886.0 1112.4 L1887.5 1111.8 L1889.0 1112.9 L1890.5 1113.1 L1892.0 1112.5 L1893.5 1112.8 L1895.0 1111.7 L1896.5 1110.9 L1898.0 1110.9 L1899.5 1111.4 L1901.0 1112.5 L1902.5 1113.3 L1904.0 1113.4 L1905.5 1112.7 L1907.0 1111.6 L1908.5 1111.3 L1910.0 1111.1 L1911.5 1111.4 L1913.0 1111.2 L1914.5 1110.9 L1916.0 1110.0 L1917.5 1110.0 L1919.0 1110.2 L1920.5 1110.4 L1922.0 1111.2 L1923.5 1111.2 L1925.0 1112.3 L1926.5 1111.9 L1928.0 1110.7 L1929.5 1111.1 L1931.0 1111.1 L1932.5 1112.3 L1934.0 1113.4 L1935.5 1113.2 L1937.0 1112.6 L1938.5 1111.4 L1940.0 1111.0 L1941.5 1111.0 L1943.0 1110.7 L1944.5 1112.1 L1946.0 1111.7 L1947.5 1111.3 L1949.0 1112.0 L1950.5 1110.9 L1952.0 1111.1 L1953.5 1110.7 L1955.0 1109.8 L1956.5 1110.8 L1958.0 1111.5 L1959.5 1112.3 L1961.0 1112.4 L1962.5 1112.1 L1964.0 1112.0 L1965.5 1111.3 L1967.0 1111.4 L1968.5 1111.1 L1970.0 1111.6 L1971.5 1111.9 L1973.0 1112.4 L1974.5 1113.2 L1976.0 1112.3 L1977.5 1111.8 L1979.0 1112.0 L1980.5 1111.3 L1982.0 1111.6 L1983.5 1112.3 L1985.0 1111.7 L1986.5 1111.7 L1988.0 1111.6 L1989.5 1111.9 L1991.0 1111.5 L1992.5 1110.9 L1994.0 1111.1 L1995.5 1110.5 L1997.0 1111.3 L1998.5 1111.7 L2000.0 1111.4 L2001.5 1111.7 L2003.0 1111.2 L2004.5 1110.5 L2006.0 1110.2 L2007.5 1109.8 L2009.0 1109.8 L2010.5 1110.5 L2012.0 1111.5 L2013.5 1112.1 L2015.0 1113.1 L2016.5 1113.6 L2018.0 1113.1 L2019.5 1113.6 L2021.0 1113.3 L2022.5 1112.6 L2024.0 1112.8 L2025.5 1112.5 L2027.0 1112.1 L2028.5 1112.8 L2030.0 1112.8 L2031.5 1112.6 L2033.0 1112.4 L2034.5 1112.1 L2036.0 1111.8 L2037.5 1111.8 L2039.0 1111.1 L2040.5 1111.1 L2042.0 1111.8 L2043.5 1111.8 L2045.0 1112.5 L2046.5 1112.6 L2048.0 1111.7 L2049.5 1111.1 L2051.0 1110.9 L2052.5 1110.6 L2054.0 1111.4 L2055.5 1111.4 L2057.0 1112.0 L2058.5 1111.4 L2060.0 1110.6 L2061.5 1111.0 L2063.0 1111.0 L2064.5 1111.5 L2066.0 1110.8 L2067.5 1111.1 L2069.0 1110.5 L2070.5 1110.3 L2072.0 1110.8 L2073.5 1110.3 L2075.0 1110.4 L2076.5 1111.1 L2078.0 1110.9 L2079.5 1112.3 L2081.0 1112.2 L2082.5 1111.8 L2084.0 1112.7 L2085.5 1111.7 L2087.0 1112.8 L2088.5 1113.5 L2090.0 1113.0 L2091.5 1112.8 L2093.0 1111.5 L2094.5 1110.9 L2096.0 1111.3 L2097.5 1111.2 L2099.0 1112.2 L2100.5 1112.3 L2102.0 1111.9 L2103.5 1112.6 L2105.0 1111.0 L2106.5 1110.6 L2108.0 1111.0 L2109.5 1110.5 L2111.0 1111.4 L2112.5 1112.0 L2114.0 1111.5 L2115.5 1111.4 L2117.0 1110.8 L2118.5 1109.8 L2120.0 1110.6 L2121.5 1110.3 L2123.0 1110.6 L2124.5 1112.0 L2126.0 1111.9 L2127.5 1112.1 L2129.0 1112.2 L2130.5 1111.5 L2132.0 1110.6 L2133.5 1111.1 L2135.0 1111.4 L2136.5 1111.5 L2138.0 1112.3 L2139.5 1112.4 L2141.0 1113.1 L2142.5 1113.7 L2144.0 1112.6 L2145.5 1112.7 L2147.0 1111.4 L2148.5 1110.1 L2150.0 1111.1 L2151.5 1110.4 L2153.0 1110.8 L2154.5 1111.9 L2156.0 1111.3 L2157.5 1111.2 L2159.0 1111.5 L2160.5 1111.6 L2162.0 1112.1 L2163.5 1111.8 L2165.0 1111.4 L2166.5 1110.7 L2168.0 1111.4 L2169.5 1112.5 L2171.0 1113.2 L2172.5 1113.8 L2174.0 1112.8 L2175.5 1112.6 L2177.0 1112.4 L2178.5 1111.4 L2180.0 1111.6 L2181.5 1111.6 L2183.0 1110.9 L2184.5 1111.7 L2186.0 1112.0 L2187.5 1112.3 L2189.0 1112.4 L2190.5 1112.1 L2192.0 1112.4 L2193.5 1112.3 L2195.0 1112.3 L2196.5 1112.3 L2198.0 1112.3 L2199.5 1111.9 L2201.0 1112.4 L2202.5 1113.5 L2204.0 1112.8 L2205.5 1112.8 L2207.0 1112.2 L2208.5 1110.8 L2210.0 1111.4 L2211.5 1111.4 L2213.0 1111.3 L2214.5 1111.2 L2216.0 1110.5 L2217.5 1111.0 L2219.0 1111.2 L2220.5 1111.9 L2222.0 1111.7 L2223.5 1111.5 L2225.0 1112.0 L2226.5 1112.0 L2228.0 1112.2"/>
<path class="ln" stroke="#bfbf00" d="M218.0 977.5 L219.5 977.2 L221.0 976.8 L222.5 976.4 L224.0 976.0 L225.5 975.6 L227.0 975.2 L228.5 974.7 L230.0 974.2 L231.5 973.8 L233.0 973.2 L234.5 972.7 L236.0 972.1 L237.5 971.5 L239.0 970.8 L240.5 970.0 L242.0 969.2 L243.5 968.3 L245.0 967.3 L246.5 966.3 L248.0 965.3 L249.5 964.4 L251.0 963.4 L252.5 962.5 L254.0 961.6 L255.5 960.6 L257.0 959.6 L258.5 958.7 L260.0 957.8 L261.5 957.2 L263.0 956.7 L264.5 956.2 L266.0 955.7 L267.5 955.3 L269.0 955.1 L270.5 955.0 L272.0 955.1 L273.5 955.4 L275.0 955.9 L276.5 956.4 L278.0 957.0 L279.5 957.7 L281.0 958.6 L282.5 959.7 L284.0 961.0 L285.5 962.5 L287.0 964.4 L288.5 966.6 L290.0 969.1 L291.5 971.7 L293.0 974.6 L294.5 977.5 L296.0 980.8 L297.5 984.7 L299.0 988.9 L300.5 993.2 L302.0 997.4 L303.5 1001.2 L305.0 1005.0 L306.5 1008.8 L308.0 1012.4 L309.5 1015.9 L311.0 1019.1 L312.5 1021.9 L314.0 1024.6 L315.5 1027.1 L317.0 1029.4 L318.5 1031.6 L320.0 1033.7 L321.5 1035.7 L323.0 1037.5 L324.5 1039.2 L326.0 1040.9 L327.5 1042.6 L329.0 1044.1 L330.5 1045.5 L332.0 1046.7 L333.5 1047.7 L335.0 1048.5 L336.5 1049.4 L338.0 1050.1 L339.5 1050.8 L341.0 1051.3 L342.5 1051.7 L344.0 1051.8 L345.5 1051.7 L347.0 1051.5 L348.5 1051.1 L350.0 1050.6 L351.5 1050.0 L353.0 1049.4 L354.5 1048.8 L356.0 1048.1 L357.5 1047.1 L359.0 1046.0 L360.5 1044.7 L362.0 1043.3 L363.5 1041.8 L365.0 1040.2 L366.5 1038.4 L368.0 1036.2 L369.5 1033.9 L371.0 1031.3 L372.5 1028.7 L374.0 1026.0 L375.5 1023.3 L377.0 1020.3 L378.5 1017.1 L380.0 1013.8 L381.5 1010.5 L383.0 1007.1 L384.5 1003.7 L386.0 1000.3 L387.5 996.8 L389.0 993.2 L390.5 989.6 L392.0 986.0 L393.5 982.3 L395.0 978.6 L396.5 974.8 L398.0 971.0 L399.5 967.1 L401.0 963.0 L402.5 958.9 L404.0 954.8 L405.5 950.4 L407.0 945.9 L408.5 941.0 L410.0 935.7 L411.5 930.0 L413.0 923.9 L414.5 917.6 L416.0 911.0 L417.5 904.3 L419.0 897.5 L420.5 890.7 L422.0 883.6 L423.5 876.5 L425.0 869.2 L426.5 861.7 L428.0 854.2 L429.5 846.5 L431.0 838.7 L432.5 830.8 L434.0 822.8 L435.5 814.7 L437.0 806.5 L438.5 798.2 L440.0 789.8 L441.5 781.1 L443.0 772.2 L444.5 763.1 L446.0 753.9 L447.5 744.5 L449.0 735.0 L450.5 725.2 L452.0 715.1 L453.5 704.9 L455.0 694.4 L456.5 683.9 L458.0 673.3 L459.5 662.6 L461.0 651.8 L462.5 640.9 L464.0 629.9 L465.5 618.9 L467.0 607.8 L468.5 596.6 L470.0 585.4 L471.5 574.2 L473.0 562.9 L474.5 551.3 L476.0 539.6 L477.5 527.7 L479.0 515.7 L480.5 503.6 L482.0 491.4 L483.5 479.3 L485.0 467.2 L486.5 455.3 L488.0 443.5 L489.5 431.9 L491.0 420.5 L492.5 409.4 L494.0 398.6 L495.5 388.1 L497.0 378.0 L498.5 368.0 L500.0 358.3 L501.5 348.6 L503.0 338.9 L504.5 329.2 L506.0 319.5 L507.5 309.9 L509.0 300.3 L510.5 290.9 L512.0 281.6 L513.5 272.5 L515.0 263.4 L516.5 254.7 L518.0 247.1 L519.5 240.1 L521.0 233.6 L522.5 227.5 L524.0 221.6 L525.5 215.8 L527.0 210.0 L528.5 204.2 L530.0 198.0 L531.5 191.8 L533.0 186.0 L534.5 181.2 L536.0 177.7 L537.5 174.3 L539.0 171.2 L540.5 169.0 L542.0 167.8 L543.5 168.1 L545.0 170.2 L546.5 173.5 L548.0 177.4 L549.5 181.4 L551.0 186.3 L552.5 192.4 L554.0 199.0 L555.5 205.9 L557.0 213.4 L558.5 221.6 L560.0 230.3 L561.5 239.2 L563.0 248.2 L564.5 257.3 L566.0 266.8 L567.5 276.2 L569.0 285.3 L570.5 294.3 L572.0 303.3 L573.5 312.3 L575.0 321.6 L576.5 331.1 L578.0 341.0 L579.5 351.1 L581.0 361.4 L582.5 371.9 L584.0 382.7 L585.5 393.9 L587.0 405.3 L588.5 418.0 L590.0 434.4 L591.5 453.7 L593.0 475.1 L594.5 497.8 L596.0 521.1 L597.5 544.0 L599.0 566.0 L600.5 586.7 L602.0 606.8 L603.5 626.8 L605.0 647.1 L606.5 668.2 L608.0 690.6 L609.5 715.4 L611.0 742.0 L612.5 769.1 L614.0 796.3 L615.5 822.3 L617.0 845.7 L618.5 866.0 L620.0 884.8 L621.5 902.2 L623.0 918.6 L624.5 934.1 L626.0 948.9 L627.5 963.3 L629.0 977.2 L630.5 990.3 L632.0 1002.3 L633.5 1013.0 L635.0 1022.5 L636.5 1031.3 L638.0 1039.5 L639.5 1046.9 L641.0 1053.8 L642.5 1060.0 L644.0 1065.7 L645.5 1071.0 L647.0 1076.0 L648.5 1080.6 L650.0 1084.8 L651.5 1088.8 L653.0 1092.4 L654.5 1096.0 L656.0 1099.3 L657.5 1102.3 L659.0 1104.7 L660.5 1106.5 L662.0 1108.0 L663.5 1109.4 L665.0 1110.5 L666.5 1111.4 L668.0 1112.0 L669.5 1112.4 L671.0 1112.8 L672.5 1113.2 L674.0 1113.5 L675.5 1113.8 L677.0 1114.0 L678.5 1114.1 L680.0 1114.2 L681.5 1114.2 L683.0 1114.3 L684.5 1114.3 L686.0 1114.4 L687.5 1114.4 L689.0 1114.4 L690.5 1114.4 L692.0 1114.5 L693.5 1114.5 L695.0 1114.5 L696.5 1114.5 L698.0 1114.5 L699.5 1114.5 L701.0 1114.5 L702.5 1114.5 L704.0 1114.5 L705.5 1114.5 L707.0 1114.5 L708.5 1114.5 L710.0 1114.5 L711.5 1114.5 L713.0 1114.5 L714.5 1114.5 L716.0 1114.5 L717.5 1114.5 L719.0 1114.5 L720.5 1114.5 L722.0 1114.5 L723.5 1114.5 L725.0 1114.5 L726.5 1114.5 L728.0 1114.5 L729.5 1114.5 L731.0 1114.5 L732.5 1114.5 L734.0 1114.5 L735.5 1114.5 L737.0 1114.5 L738.5 1114.5 L740.0 1114.5 L741.5 1114.5 L743.0 1114.5 L744.5 1114.5 L746.0 1114.5 L747.5 1114.5 L749.0 1114.5 L750.5 1114.5 L752.0 1114.5 L753.5 1114.5 L755.0 1114.5 L756.5 1114.5 L758.0 1114.5 L759.5 1114.5 L761.0 1114.5 L762.5 1114.5 L764.0 1114.5 L765.5 1114.5 L767.0 1114.5 L768.5 1114.5 L770.0 1114.5 L771.5 1114.5 L773.0 1114.5 L774.5 1114.5 L776.0 1114.5 L777.5 1114.5 L779.0 1114.5 L780.5 1114.5 L782.0 1114.5 L783.5 1114.5 L785.0 1114.5 L786.5 1114.4 L788.0 1114.4 L789.5 1114.4 L791.0 1114.4 L792.5 1114.3 L794.0 1114.3 L795.5 1114.2 L797.0 1114.2 L798.5 1114.1 L800.0 1114.1 L801.5 1114.0 L803.0 1113.9 L804.5 1113.9 L806.0 1113.8 L807.5 1113.7 L809.0 1113.6 L810.5 1113.6 L812.0 1113.5 L813.5 1113.4 L815.0 1113.4 L816.5 1113.3 L818.0 1113.2 L819.5 1113.1 L821.0 1113.0 L822.5 1113.0 L824.0 1112.9 L825.5 1112.8 L827.0 1112.7 L828.5 1112.6 L830.0 1112.6 L831.5 1112.5 L833.0 1112.4 L834.5 1112.3 L836.0 1112.2 L837.5 1112.0 L839.0 1111.9 L840.5 1111.8 L842.0 1111.7 L843.5 1111.6 L845.0 1111.5 L846.5 1111.3 L848.0 1111.2 L849.5 1111.1 L851.0 1110.9 L852.5 1110.8 L854.0 1110.6 L855.5 1110.5 L857.0 1110.3 L858.5 1110.2 L860.0 1110.0 L861.5 1109.8 L863.0 1109.6 L864.5 1109.4 L866.0 1109.2 L867.5 1109.0 L869.0 1108.7 L870.5 1108.5 L872.0 1108.2 L873.5 1108.0 L875.0 1107.7 L876.5 1107.5 L878.0 1107.2 L879.5 1107.0 L881.0 1106.7 L882.5 1106.5 L884.0 1106.3 L885.5 1106.1 L887.0 1105.8 L888.5 1105.6 L890.0 1105.4 L891.5 1105.1 L893.0 1104.9 L894.5 1104.7 L896.0 1104.4 L897.5 1104.2 L899.0 1104.0 L900.5 1103.7 L902.0 1103.4 L903.5 1103.2 L905.0 1102.9 L906.5 1102.6 L908.0 1102.3 L909.5 1102.0 L911.0 1101.6 L912.5 1101.3 L914.0 1100.9 L915.5 1100.5 L917.0 1100.1 L918.5 1099.7 L920.0 1099.3 L921.5 1098.9 L923.0 1098.4 L924.5 1098.0 L926.0 1097.6 L927.5 1097.1 L929.0 1096.7 L930.5 1096.2 L932.0 1095.8 L933.5 1095.3 L935.0 1094.9 L936.5 1094.4 L938.0 1094.0 L939.5 1093.6 L941.0 1093.1 L942.5 1092.7 L944.0 1092.2 L945.5 1091.8 L947.0 1091.4 L948.5 1090.9 L950.0 1090.5 L951.5 1090.0 L953.0 1089.5 L954.5 1089.1 L956.0 1088.6 L957.5 1088.1 L959.0 1087.6 L960.5 1087.1 L962.0 1086.6 L963.5 1086.0 L965.0 1085.5 L966.5 1084.9 L968.0 1084.3 L969.5 1083.7 L971.0 1083.0 L972.5 1082.4 L974.0 1081.8 L975.5 1081.1 L977.0 1080.4 L978.5 1079.7 L980.0 1079.0 L981.5 1078.3 L983.0 1077.6 L984.5 1076.9 L986.0 1076.2 L987.5 1075.4 L989.0 1074.7 L990.5 1073.9 L992.0 1073.2 L993.5 1072.4 L995.0 1071.7 L996.5 1070.9 L998.0 1070.1 L999.5 1069.2 L1001.0 1068.3 L1002.5 1067.3 L1004.0 1066.4 L1005.5 1065.4 L1007.0 1064.3 L1008.5 1063.3 L1010.0 1062.2 L1011.5 1061.1 L1013.0 1059.9 L1014.5 1058.8 L1016.0 1057.6 L1017.5 1056.5 L1019.0 1055.3 L1020.5 1054.1 L1022.0 1052.9 L1023.5 1051.6 L1025.0 1050.4 L1026.5 1049.2 L1028.0 1047.9 L1029.5 1046.7 L1031.0 1045.5 L1032.5 1044.2 L1034.0 1043.0 L1035.5 1041.8 L1037.0 1040.6 L1038.5 1039.4 L1040.0 1038.2 L1041.5 1037.0 L1043.0 1035.8 L1044.5 1034.7 L1046.0 1033.5 L1047.5 1032.4 L1049.0 1031.3 L1050.5 1030.2 L1052.0 1029.2 L1053.5 1028.2 L1055.0 1027.1 L1056.5 1026.1 L1058.0 1025.1 L1059.5 1024.1 L1061.0 1023.1 L1062.5 1022.1 L1064.0 1021.2 L1065.5 1020.2 L1067.0 1019.2 L1068.5 1018.3 L1070.0 1017.3 L1071.5 1016.4 L1073.0 1015.4 L1074.5 1014.5 L1076.0 1013.5 L1077.5 1012.6 L1079.0 1011.6 L1080.5 1010.7 L1082.0 1009.7 L1083.5 1008.7 L1085.0 1007.8 L1086.5 1006.8 L1088.0 1005.8 L1089.5 1004.8 L1091.0 1003.8 L1092.5 1002.8 L1094.0 1001.8 L1095.5 1000.7 L1097.0 999.7 L1098.5 998.6 L1100.0 997.5 L1101.5 996.4 L1103.0 995.3 L1104.5 994.1 L1106.0 992.9 L1107.5 991.7 L1109.0 990.5 L1110.5 989.2 L1112.0 988.0 L1113.5 986.7 L1115.0 985.4 L1116.5 984.1 L1118.0 982.8 L1119.5 981.5 L1121.0 980.2 L1122.5 978.8 L1124.0 977.5 L1125.5 976.2 L1127.0 974.9 L1128.5 973.6 L1130.0 972.3 L1131.5 971.0 L1133.0 969.8 L1134.5 968.5 L1136.0 967.3 L1137.5 966.1 L1139.0 964.9 L1140.5 963.7 L1142.0 962.6 L1143.5 961.5 L1145.0 960.4 L1146.5 959.3 L1148.0 958.3 L1149.5 957.3 L1151.0 956.4 L1152.5 955.4 L1154.0 954.5 L1155.5 953.6 L1157.0 952.6 L1158.5 951.8 L1160.0 950.9 L1161.5 950.0 L1163.0 949.2 L1164.5 948.4 L1166.0 947.6 L1167.5 946.8 L1169.0 946.1 L1170.5 945.4 L1172.0 944.7 L1173.5 944.1 L1175.0 943.5 L1176.5 942.9 L1178.0 942.4 L1179.5 941.8 L1181.0 941.3 L1182.5 940.8 L1184.0 940.4 L1185.5 939.9 L1187.0 939.6 L1188.5 939.2 L1190.0 939.0 L1191.5 938.8 L1193.0 938.6 L1194.5 938.4 L1196.0 938.2 L1197.5 938.0 L1199.0 937.9 L1200.5 937.7 L1202.0 937.6 L1203.5 937.6 L1205.0 937.5 L1206.5 937.5 L1208.0 937.6 L1209.5 937.8 L1211.0 938.2 L1212.5 938.6 L1214.0 939.1 L1215.5 939.6 L1217.0 940.3 L1218.5 940.9 L1220.0 941.6 L1221.5 942.3 L1223.0 942.9 L1224.5 943.6 L1226.0 944.2 L1227.5 944.9 L1229.0 945.6 L1230.5 946.4 L1232.0 947.2 L1233.5 948.0 L1235.0 948.9 L1236.5 949.8 L1238.0 950.7 L1239.5 951.7 L1241.0 952.7 L1242.5 953.6 L1244.0 954.6 L1245.5 955.7 L1247.0 956.7 L1248.5 957.7 L1250.0 958.8 L1251.5 959.9 L1253.0 961.0 L1254.5 962.1 L1256.0 963.2 L1257.5 964.4 L1259.0 965.6 L1260.5 966.9 L1262.0 968.1 L1263.5 969.4 L1265.0 970.7 L1266.5 972.1 L1268.0 973.4 L1269.5 974.8 L1271.0 976.2 L1272.5 977.6 L1274.0 979.0 L1275.5 980.5 L1277.0 982.0 L1278.5 983.5 L1280.0 985.1 L1281.5 986.7 L1283.0 988.4 L1284.5 990.1 L1286.0 991.8 L1287.5 993.5 L1289.0 995.3 L1290.5 997.1 L1292.0 998.9 L1293.5 1000.7 L1295.0 1002.5 L1296.5 1004.3 L1298.0 1006.1 L1299.5 1007.9 L1301.0 1009.7 L1302.5 1011.5 L1304.0 1013.5 L1305.5 1015.4 L1307.0 1017.5 L1308.5 1019.7 L1310.0 1022.0 L1311.5 1024.6 L1313.0 1027.5 L1314.5 1030.7 L1316.0 1034.0 L1317.5 1037.4 L1319.0 1040.8 L1320.5 1044.1 L1322.0 1047.2 L1323.5 1050.0 L1325.0 1052.5 L1326.5 1054.6 L1328.0 1056.6 L1329.5 1058.4 L1331.0 1060.2 L1332.5 1061.9 L1334.0 1063.5 L1335.5 1065.2 L1337.0 1066.9 L1338.5 1068.7 L1340.0 1070.6 L1341.5 1072.4 L1343.0 1074.3 L1344.5 1076.2 L1346.0 1078.0 L1347.5 1079.8 L1349.0 1081.4 L1350.5 1083.0 L1352.0 1084.6 L1353.5 1086.1 L1355.0 1087.6 L1356.5 1089.0 L1358.0 1090.4 L1359.5 1091.7 L1361.0 1093.0 L1362.5 1094.2 L1364.0 1095.3 L1365.5 1096.3 L1367.0 1097.3 L1368.5 1098.3 L1370.0 1099.2 L1371.5 1100.0 L1373.0 1100.9 L1374.5 1101.6 L1376.0 1102.4 L1377.5 1103.0 L1379.0 1103.6 L1380.5 1104.2 L1382.0 1104.7 L1383.5 1105.2 L1385.0 1105.6 L1386.5 1106.1 L1388.0 1106.5 L1389.5 1106.9 L1391.0 1107.3 L1392.5 1107.6 L1394.0 1107.9 L1395.5 1108.2 L1397.0 1108.5 L1398.5 1108.8 L1400.0 1109.0 L1401.5 1109.3 L1403.0 1109.5 L1404.5 1109.7 L1406.0 1109.9 L1407.5 1110.1 L1409.0 1110.3 L1410.5 1110.5 L1412.0 1110.7 L1413.5 1110.9 L1415.0 1111.0 L1416.5 1111.2 L1418.0 1111.3 L1419.5 1111.5 L1421.0 1111.6 L1422.5 1111.7 L1424.0 1111.8 L1425.5 1112.0 L1427.0 1112.1 L1428.5 1112.2 L1430.0 1112.3 L1431.5 1112.4 L1433.0 1112.5 L1434.5 1112.6 L1436.0 1112.7 L1437.5 1112.8 L1439.0 1112.9 L1440.5 1113.0 L1442.0 1113.1 L1443.5 1113.2 L1445.0 1113.3 L1446.5 1113.3 L1448.0 1113.4 L1449.5 1113.5 L1451.0 1113.5 L1452.5 1113.6 L1454.0 1113.7 L1455.5 1113.8 L1457.0 1113.8 L1458.5 1113.9 L1460.0 1114.0 L1461.5 1114.0 L1463.0 1114.1 L1464.5 1114.1 L1466.0 1114.2 L1467.5 1114.3 L1469.0 1114.3 L1470.5 1114.4 L1472.0 1114.4 L1473.5 1114.4 L1475.0 1114.5 L1476.5 1114.5 L1478.0 1114.5 L1479.5 1114.5 L1481.0 1114.5 L1482.5 1114.5 L1484.0 1114.5 L1485.5 1114.5 L1487.0 1114.5 L1488.5 1114.5 L1490.0 1114.5 L1491.5 1114.5 L1493.0 1114.5 L1494.5 1114.5 L1496.0 1114.5 L1497.5 1114.5 L1499.0 1114.5 L1500.5 1114.5 L1502.0 1114.5 L1503.5 1114.5 L1505.0 1114.5 L1506.5 1114.5 L1508.0 1114.5 L1509.5 1114.5 L1511.0 1114.5 L1512.5 1114.5 L1514.0 1114.5 L1515.5 1114.5 L1517.0 1114.5 L1518.5 1114.5 L1520.0 1114.5 L1521.5 1114.5 L1523.0 1114.5 L1524.5 1114.5 L1526.0 1114.5 L1527.5 1114.5 L1529.0 1114.5 L1530.5 1114.5 L1532.0 1114.5 L1533.5 1114.5 L1535.0 1114.5 L1536.5 1114.5 L1538.0 1114.5 L1539.5 1114.5 L1541.0 1114.5 L1542.5 1114.5 L1544.0 1114.5 L1545.5 1114.5 L1547.0 1114.5 L1548.5 1114.5 L1550.0 1114.5 L1551.5 1114.5 L1553.0 1114.5 L1554.5 1114.5 L1556.0 1114.5 L1557.5 1114.5 L1559.0 1114.5 L1560.5 1114.5 L1562.0 1114.5 L1563.5 1114.5 L1565.0 1114.5 L1566.5 1114.5 L1568.0 1114.5 L1569.5 1114.5 L1571.0 1114.5 L1572.5 1114.5 L1574.0 1114.5 L1575.5 1114.5 L1577.0 1114.5 L1578.5 1114.5 L1580.0 1114.5 L1581.5 1114.5 L1583.0 1114.5 L1584.5 1114.5 L1586.0 1114.5 L1587.5 1114.5 L1589.0 1114.5 L1590.5 1114.5 L1592.0 1114.5 L1593.5 1114.5 L1595.0 1114.5 L1596.5 1114.5 L1598.0 1114.5 L1599.5 1114.5 L1601.0 1114.5 L1602.5 1114.5 L1604.0 1114.5 L1605.5 1114.5 L1607.0 1114.5 L1608.5 1114.5 L1610.0 1114.5 L1611.5 1114.5 L1613.0 1114.5 L1614.5 1114.5 L1616.0 1114.5 L1617.5 1114.5 L1619.0 1114.5 L1620.5 1114.5 L1622.0 1114.5 L1623.5 1114.5 L1625.0 1114.5 L1626.5 1114.5 L1628.0 1114.5 L1629.5 1114.5 L1631.0 1114.5 L1632.5 1114.5 L1634.0 1114.5 L1635.5 1114.5 L1637.0 1114.5 L1638.5 1114.5 L1640.0 1114.5 L1641.5 1114.5 L1643.0 1114.5 L1644.5 1114.5 L1646.0 1114.5 L1647.5 1114.5 L1649.0 1114.5 L1650.5 1114.5 L1652.0 1114.5 L1653.5 1114.5 L1655.0 1114.5 L1656.5 1114.5 L1658.0 1114.5 L1659.5 1114.5 L1661.0 1114.5 L1662.5 1114.5 L1664.0 1114.5 L1665.5 1114.5 L1667.0 1114.5 L1668.5 1114.5 L1670.0 1114.5 L1671.5 1114.5 L1673.0 1114.5 L1674.5 1114.5 L1676.0 1114.5 L1677.5 1114.5 L1679.0 1114.5 L1680.5 1114.5 L1682.0 1114.5 L1683.5 1114.5 L1685.0 1114.5 L1686.5 1114.5 L1688.0 1114.5 L1689.5 1114.5 L1691.0 1114.5 L1692.5 1114.5 L1694.0 1114.5 L1695.5 1114.5 L1697.0 1114.5 L1698.5 1114.5 L1700.0 1114.5 L1701.5 1114.5 L1703.0 1114.5 L1704.5 1114.5 L1706.0 1114.5 L1707.5 1114.5 L1709.0 1114.5 L1710.5 1114.5 L1712.0 1114.5 L1713.5 1114.5 L1715.0 1114.5 L1716.5 1114.5 L1718.0 1114.5 L1719.5 1114.5 L1721.0 1114.5 L1722.5 1114.5 L1724.0 1114.5 L1725.5 1114.5 L1727.0 1114.5 L1728.5 1114.5 L1730.0 1114.5 L1731.5 1114.5 L1733.0 1114.5 L1734.5 1114.5 L1736.0 1114.5 L1737.5 1114.5 L1739.0 1114.5 L1740.5 1114.5 L1742.0 1114.5 L1743.5 1114.5 L1745.0 1114.5 L1746.5 1114.5 L1748.0 1114.5 L1749.5 1114.5 L1751.0 1114.5 L1752.5 1114.5 L1754.0 1114.5 L1755.5 1114.5 L1757.0 1114.5 L1758.5 1114.5 L1760.0 1114.5 L1761.5 1114.5 L1763.0 1114.5 L1764.5 1114.5 L1766.0 1114.5 L1767.5 1114.5 L1769.0 1114.5 L1770.5 1114.5 L1772.0 1114.5 L1773.5 1114.5 L1775.0 1114.5 L1776.5 1114.5 L1778.0 1114.5 L1779.5 1114.5 L1781.0 1114.5 L1782.5 1114.5 L1784.0 1114.5 L1785.5 1114.5 L1787.0 1114.5 L1788.5 1114.5 L1790.0 1114.5 L1791.5 1114.5 L1793.0 1114.5 L1794.5 1114.5 L1796.0 1114.5 L1797.5 1114.5 L1799.0 1114.5 L1800.5 1114.5 L1802.0 1114.5 L1803.5 1114.5 L1805.0 1114.5 L1806.5 1114.5 L1808.0 1114.5 L1809.5 1114.5 L1811.0 1114.5 L1812.5 1114.5 L1814.0 1114.5 L1815.5 1114.5 L1817.0 1114.5 L1818.5 1114.5 L1820.0 1114.5 L1821.5 1114.5 L1823.0 1114.5 L1824.5 1114.5 L1826.0 1114.5 L1827.5 1114.5 L1829.0 1114.5 L1830.5 1114.5 L1832.0 1114.5 L1833.5 1114.5 L1835.0 1114.5 L1836.5 1114.5 L1838.0 1114.5 L1839.5 1114.5 L1841.0 1114.5 L1842.5 1114.5 L1844.0 1114.5 L1845.5 1114.5 L1847.0 1114.5 L1848.5 1114.5 L1850.0 1114.5 L1851.5 1114.5 L1853.0 1114.5 L1854.5 1114.5 L1856.0 1114.5 L1857.5 1114.5 L1859.0 1114.5 L1860.5 1114.5 L1862.0 1114.5 L1863.5 1114.5 L1865.0 1114.5 L1866.5 1114.5 L1868.0 1114.5 L1869.5 1114.5 L1871.0 1114.5 L1872.5 1114.5 L1874.0 1114.5 L1875.5 1114.5 L1877.0 1114.5 L1878.5 1114.5 L1880.0 1114.5 L1881.5 1114.5 L1883.0 1114.5 L1884.5 1114.5 L1886.0 1114.5 L1887.5 1114.5 L1889.0 1114.5 L1890.5 1114.5 L1892.0 1114.5 L1893.5 1114.5 L1895.0 1114.5 L1896.5 1114.5 L1898.0 1114.5 L1899.5 1114.5 L1901.0 1114.5 L1902.5 1114.5 L1904.0 1114.5 L1905.5 1114.5 L1907.0 1114.5 L1908.5 1114.5 L1910.0 1114.5 L1911.5 1114.5 L1913.0 1114.5 L1914.5 1114.5 L1916.0 1114.5 L1917.5 1114.5 L1919.0 1114.5 L1920.5 1114.5 L1922.0 1114.5 L1923.5 1114.5 L1925.0 1114.5 L1926.5 1114.5 L1928.0 1114.5 L1929.5 1114.5 L1931.0 1114.5 L1932.5 1114.5 L1934.0 1114.5 L1935.5 1114.5 L1937.0 1114.5 L1938.5 1114.5 L1940.0 1114.5 L1941.5 1114.5 L1943.0 1114.5 L1944.5 1114.5 L1946.0 1114.5 L1947.5 1114.5 L1949.0 1114.5 L1950.5 1114.5 L1952.0 1114.5 L1953.5 1114.5 L1955.0 1114.5 L1956.5 1114.5 L1958.0 1114.5 L1959.5 1114.5 L1961.0 1114.5 L1962.5 1114.5 L1964.0 1114.5 L1965.5 1114.5 L1967.0 1114.5 L1968.5 1114.5 L1970.0 1114.5 L1971.5 1114.5 L1973.0 1114.5 L1974.5 1114.5 L1976.0 1114.5 L1977.5 1114.5 L1979.0 1114.5 L1980.5 1114.5 L1982.0 1114.5 L1983.5 1114.5 L1985.0 1114.5 L1986.5 1114.5 L1988.0 1114.5 L1989.5 1114.5 L1991.0 1114.5 L1992.5 1114.5 L1994.0 1114.5 L1995.5 1114.5 L1997.0 1114.5 L1998.5 1114.5 L2000.0 1114.5 L2001.5 1114.5 L2003.0 1114.5 L2004.5 1114.5 L2006.0 1114.5 L2007.5 1114.5 L2009.0 1114.5 L2010.5 1114.5 L2012.0 1114.5 L2013.5 1114.5 L2015.0 1114.5 L2016.5 1114.5 L2018.0 1114.5 L2019.5 1114.5 L2021.0 1114.5 L2022.5 1114.5 L2024.0 1114.5 L2025.5 1114.5 L2027.0 1114.5 L2028.5 1114.5 L2030.0 1114.5 L2031.5 1114.5 L2033.0 1114.5 L2034.5 1114.5 L2036.0 1114.5 L2037.5 1114.5 L2039.0 1114.5 L2040.5 1114.5 L2042.0 1114.5 L2043.5 1114.5 L2045.0 1114.5 L2046.5 1114.5 L2048.0 1114.5 L2049.5 1114.5 L2051.0 1114.5 L2052.5 1114.5 L2054.0 1114.5 L2055.5 1114.5 L2057.0 1114.5 L2058.5 1114.5 L2060.0 1114.5 L2061.5 1114.5 L2063.0 1114.5 L2064.5 1114.5 L2066.0 1114.5 L2067.5 1114.5 L2069.0 1114.5 L2070.5 1114.5 L2072.0 1114.5 L2073.5 1114.5 L2075.0 1114.5 L2076.5 1114.5 L2078.0 1114.5 L2079.5 1114.5 L2081.0 1114.5 L2082.5 1114.5 L2084.0 1114.5 L2085.5 1114.5 L2087.0 1114.5 L2088.5 1114.5 L2090.0 1114.5 L2091.5 1114.5 L2093.0 1114.5 L2094.5 1114.5 L2096.0 1114.5 L2097.5 1114.5 L2099.0 1114.5 L2100.5 1114.5 L2102.0 1114.5 L2103.5 1114.5 L2105.0 1114.5 L2106.5 1114.5 L2108.0 1114.5 L2109.5 1114.5 L2111.0 1114.5 L2112.5 1114.5 L2114.0 1114.5 L2115.5 1114.5 L2117.0 1114.5 L2118.5 1114.5 L2120.0 1114.5 L2121.5 1114.5 L2123.0 1114.5 L2124.5 1114.5 L2126.0 1114.5 L2127.5 1114.5 L2129.0 1114.5 L2130.5 1114.5 L2132.0 1114.5 L2133.5 1114.5 L2135.0 1114.5 L2136.5 1114.5 L2138.0 1114.5 L2139.5 1114.5 L2141.0 1114.5 L2142.5 1114.5 L2144.0 1114.5 L2145.5 1114.5 L2147.0 1114.5 L2148.5 1114.5 L2150.0 1114.5 L2151.5 1114.5 L2153.0 1114.5 L2154.5 1114.5 L2156.0 1114.5 L2157.5 1114.5 L2159.0 1114.5 L2160.5 1114.5 L2162.0 1114.5 L2163.5 1114.5 L2165.0 1114.5 L2166.5 1114.5 L2168.0 1114.5 L2169.5 1114.5 L2171.0 1114.5 L2172.5 1114.5 L2174.0 1114.5 L2175.5 1114.5 L2177.0 1114.5 L2178.5 1114.5 L2180.0 1114.5 L2181.5 1114.5 L2183.0 1114.5 L2184.5 1114.5 L2186.0 1114.5 L2187.5 1114.5 L2189.0 1114.5 L2190.5 1114.5 L2192.0 1114.5 L2193.5 1114.5 L2195.0 1114.5 L2196.5 1114.5 L2198.0 1114.5 L2199.5 1114.5 L2201.0 1114.5 L2202.5 1114.5 L2204.0 1114.5 L2205.5 1114.5 L2207.0 1114.5 L2208.5 1114.5 L2210.0 1114.5 L2211.5 1114.5 L2213.0 1114.5 L2214.5 1114.5 L2216.0 1114.5 L2217.5 1114.5 L2219.0 1114.5 L2220.5 1114.5 L2222.0 1114.5 L2223.5 1114.5 L2225.0 1114.5 L2226.5 1114.5 L2228.0 1114.5"/>
<path class="ln" stroke="#0000ff" d="M1223.0 1111.0 L1229.0 1110.4 L1235.0 1110.2 L1241.0 1108.7 L1247.0 1107.5 L1253.0 1104.2 L1259.0 1103.0 M1275.0 1090.0 L1281.2 1084.4 L1287.5 1079.2 L1293.8 1073.5 L1300.0 1066.0 M1310.5 1049.9 L1316.6 1043.6 L1322.7 1037.2 L1328.8 1032.7 L1334.9 1027.4 M1343.3 1016.1 L1349.5 1012.7 L1355.8 1011.6 L1362.0 1009.2 L1368.3 1008.0 L1374.5 1009.9 L1380.8 1009.6 M1395.8 1009.6 L1402.0 1010.7 L1408.3 1010.2 L1414.5 1011.5 L1420.7 1013.4 L1427.0 1013.0 L1433.2 1014.3 M1443.5 1019.0 L1449.9 1022.4 L1456.3 1021.9 L1462.7 1023.3 L1469.1 1024.9 L1475.5 1025.3 L1481.9 1030.2 M1493.2 1035.8 L1500.3 1040.6 L1507.4 1041.9 L1514.6 1043.7 L1521.7 1046.3 L1528.8 1048.0 M1540.0 1054.6 L1547.1 1055.2 L1554.2 1060.3 L1561.4 1061.8 L1568.5 1064.5 L1575.6 1066.7 M1588.7 1073.3 L1594.8 1075.3 L1600.9 1076.2 L1607.0 1077.6 L1613.1 1077.6 L1619.2 1080.3 L1625.3 1080.8 M1637.5 1086.4 L1643.7 1089.5 L1650.0 1091.4 L1656.2 1088.9 L1662.4 1092.5 L1668.7 1093.1 L1674.9 1093.9 M1688.0 1096.7 L1694.2 1097.2 L1700.5 1099.4 L1706.8 1099.4 L1713.0 1099.5 L1719.2 1100.5 L1725.5 1102.3 M1739.6 1106.0 L1746.0 1105.3 L1752.4 1106.4 L1758.8 1107.3 L1765.2 1107.8 L1771.6 1107.3 L1778.0 1107.5 M1792.0 1108.5 L1798.3 1108.4 L1804.7 1109.0 L1811.0 1109.2 L1817.3 1109.1 L1823.7 1109.2 L1830.0 1109.5 M1845.0 1110.5 L1851.4 1110.0 L1857.8 1110.7 L1864.2 1110.9 L1870.7 1111.5 L1877.1 1110.7 L1883.5 1110.5 M1898.0 1110.5 L1904.4 1111.1 L1910.8 1110.1 L1917.2 1110.5 L1923.7 1110.4 L1930.1 1110.3 L1936.5 1110.5 M1951.0 1110.5 L1957.4 1110.6 L1963.8 1110.8 L1970.2 1110.4 L1976.7 1110.1 L1983.1 1109.6 L1989.5 1110.5 M2004.0 1110.5 L2010.4 1110.8 L2016.8 1111.1 L2023.2 1110.9 L2029.7 1110.9 L2036.1 1110.3 L2042.5 1110.5 M2057.0 1110.5 L2063.4 1110.2 L2069.8 1110.4 L2076.2 1110.6 L2082.7 1110.2 L2089.1 1109.7 L2095.5 1110.5 M2110.0 1110.5 L2116.4 1110.3 L2122.8 1110.1 L2129.2 1111.3 L2135.7 1110.9 L2142.1 1111.4 L2148.5 1110.5 M2163.0 1110.5 L2169.4 1110.8 L2175.8 1110.8 L2182.2 1110.6 L2188.7 1110.6 L2195.1 1109.9 L2201.5 1110.5 M2216.0 1110.5 L2222.0 1110.4 L2228.0 1110.5"/>
<path class="ln" stroke="#008000" d="M1222.0 1110.5 L1228.0 1109.9 L1234.0 1108.5 L1240.0 1106.7 L1246.0 1104.9 L1252.0 1103.2 L1258.0 1100.0 M1273.0 1086.0 L1280.7 1079.4 L1288.3 1074.0 L1296.0 1062.0 M1300.0 1046.0 L1307.9 1036.2 L1315.9 1032.1 L1323.8 1017.5 M1325.0 1002.5 L1331.9 990.8 L1338.8 985.5 L1345.6 981.7 L1352.5 980.0 M1366.0 975.0 L1373.0 971.3 L1380.0 973.6 L1387.0 969.9 L1394.0 968.8 L1401.0 970.0 M1412.5 976.0 L1419.5 976.4 L1426.5 977.1 L1433.5 980.5 L1440.5 978.5 L1447.5 978.8 M1457.5 987.5 L1464.1 992.0 L1470.7 994.4 L1477.2 994.6 L1483.8 995.9 L1490.4 1002.0 M1499.7 1010.5 L1506.5 1015.1 L1513.2 1018.4 L1520.0 1019.9 L1526.7 1025.0 L1533.5 1025.5 M1546.6 1033.0 L1553.2 1040.1 L1559.7 1039.9 L1566.3 1042.4 L1572.8 1046.2 L1579.4 1048.9 M1591.5 1056.4 L1598.4 1059.8 L1605.4 1060.3 L1612.3 1060.5 L1619.3 1064.5 L1626.2 1068.0 M1639.3 1076.1 L1646.2 1079.4 L1653.2 1080.5 L1660.1 1080.7 L1667.1 1081.4 L1674.0 1084.5 M1688.0 1089.2 L1694.2 1091.1 L1700.5 1092.1 L1706.8 1091.7 L1713.0 1091.7 L1719.2 1093.6 L1725.5 1094.8 M1738.6 1098.6 L1745.0 1099.6 L1751.4 1100.5 L1757.8 1101.7 L1764.2 1102.7 L1770.6 1102.1 L1777.0 1103.3 M1791.5 1104.0 L1797.8 1103.3 L1804.2 1103.8 L1810.5 1104.7 L1816.8 1104.6 L1823.2 1105.0 L1829.5 1105.5 M1844.0 1106.5 L1850.5 1106.7 L1857.0 1107.0 L1863.5 1107.9 L1870.0 1107.5 L1876.5 1107.5 L1883.0 1107.5 M1896.0 1108.0 L1902.3 1108.9 L1908.7 1108.3 L1915.0 1108.1 L1921.3 1109.2 L1927.7 1109.0 L1934.0 1109.0 M1949.0 1109.5 L1955.3 1111.0 L1961.7 1109.4 L1968.0 1109.5 L1974.3 1109.7 L1980.7 1109.0 L1987.0 1110.0 M2002.0 1110.3 L2008.4 1109.7 L2014.8 1110.4 L2021.2 1110.7 L2027.7 1110.5 L2034.1 1110.1 L2040.5 1110.3 M2055.0 1110.3 L2061.4 1109.8 L2067.8 1109.4 L2074.2 1110.0 L2080.7 1110.2 L2087.1 1109.7 L2093.5 1110.3 M2108.0 1110.3 L2114.4 1110.6 L2120.8 1110.7 L2127.2 1110.1 L2133.7 1110.0 L2140.1 1110.8 L2146.5 1110.3 M2161.0 1110.3 L2167.4 1109.8 L2173.8 1109.9 L2180.2 1110.4 L2186.7 1110.5 L2193.1 1110.0 L2199.5 1110.3 M2214.0 1110.3 L2221.0 1110.7 L2228.0 1110.3"/>
<path class="ln" stroke="#ff0000" d="M1222.0 1112.0 L1228.0 1111.4 L1234.0 1110.9 L1240.0 1109.9 L1246.0 1108.9 L1252.0 1108.6 L1258.0 1108.0 M1274.9 1107.0 L1281.2 1106.6 L1287.4 1105.1 L1293.7 1103.4 L1299.9 1101.3 L1306.2 1100.6 L1312.4 1098.6 M1325.5 1094.8 L1331.6 1094.2 L1337.7 1091.8 L1343.8 1088.7 L1349.8 1087.7 L1355.9 1084.1 L1362.0 1084.5 M1373.3 1084.5 L1379.8 1085.5 L1386.4 1084.5 L1392.9 1083.6 L1399.5 1083.1 L1406.0 1083.8 L1412.6 1083.6 M1426.7 1083.6 L1432.9 1084.1 L1439.2 1083.0 L1445.4 1084.1 L1451.6 1084.6 L1457.9 1086.6 L1464.1 1086.4 M1479.1 1087.3 L1485.3 1087.8 L1491.6 1089.4 L1497.8 1089.5 L1504.1 1090.1 L1510.3 1090.4 L1516.6 1091.1 M1530.6 1093.0 L1536.7 1094.3 L1542.8 1095.9 L1548.9 1094.8 L1555.0 1095.5 L1561.1 1096.3 L1567.2 1097.6 M1582.2 1100.4 L1588.6 1102.0 L1595.0 1102.1 L1601.4 1099.9 L1607.8 1101.5 L1614.2 1101.9 L1620.6 1103.3 M1634.7 1104.8 L1640.9 1104.8 L1647.2 1105.4 L1653.4 1105.9 L1659.6 1106.0 L1665.9 1105.9 L1672.1 1106.5 M1687.1 1107.9 L1693.3 1107.6 L1699.6 1108.9 L1705.8 1108.7 L1712.1 1108.3 L1718.3 1108.4 L1724.6 1109.0 M1740.5 1110.2 L1746.8 1110.4 L1753.0 1110.7 L1759.2 1110.3 L1765.5 1110.6 L1771.8 1110.6 L1778.0 1110.5 M1793.0 1111.3 L1799.4 1111.8 L1805.8 1111.6 L1812.2 1110.9 L1818.6 1111.3 L1825.0 1111.1 L1831.4 1111.5 M1846.0 1112.3 L1852.4 1112.1 L1858.8 1112.5 L1865.2 1112.4 L1871.7 1112.3 L1878.1 1112.3 L1884.5 1112.3 M1899.0 1112.3 L1905.4 1112.4 L1911.8 1112.4 L1918.2 1112.0 L1924.7 1112.1 L1931.1 1113.0 L1937.5 1112.3 M1952.0 1112.3 L1958.4 1112.2 L1964.8 1112.1 L1971.2 1112.2 L1977.7 1111.8 L1984.1 1112.6 L1990.5 1112.3 M2005.0 1112.3 L2011.4 1112.2 L2017.8 1112.5 L2024.2 1112.3 L2030.7 1112.2 L2037.1 1112.1 L2043.5 1112.3 M2058.0 1112.3 L2064.4 1112.3 L2070.8 1112.6 L2077.2 1112.6 L2083.7 1112.3 L2090.1 1112.2 L2096.5 1112.3 M2111.0 1112.3 L2117.4 1112.4 L2123.8 1112.0 L2130.2 1112.3 L2136.7 1113.1 L2143.1 1112.5 L2149.5 1112.3 M2164.0 1112.3 L2170.4 1111.7 L2176.8 1111.8 L2183.2 1112.3 L2189.7 1112.6 L2196.1 1111.7 L2202.5 1112.3 M2217.0 1112.3 L2228.0 1112.3"/>
<path class="ln" stroke="#bfbf00" d="M1221.5 1109.2 L1228.4 1109.1 L1235.4 1106.9 L1242.3 1104.5 L1249.3 1101.1 L1256.2 1096.7 M1268.4 1082.7 L1276.2 1077.1 L1284.0 1068.3 L1291.8 1057.4 M1297.4 1038.6 L1303.6 1027.6 L1309.9 1018.7 L1316.1 1010.5 M1322.7 991.8 L1329.3 980.8 L1335.8 972.6 L1342.4 963.7 M1351.7 949.6 L1358.3 945.3 L1364.8 941.6 L1371.4 940.1 L1377.9 939.4 L1384.5 938.4 M1398.6 940.3 L1405.7 940.0 L1412.8 941.9 L1420.0 942.2 L1427.1 940.0 L1434.2 942.1 M1444.5 947.8 L1451.1 952.6 L1457.6 951.9 L1464.2 957.0 L1470.7 958.9 L1477.3 963.7 M1487.6 974.0 L1493.8 980.3 L1500.0 980.0 L1506.1 985.8 L1512.3 989.6 L1518.5 992.7 M1528.8 1000.2 L1535.5 1005.5 L1542.3 1006.2 L1549.0 1011.7 L1555.8 1017.3 L1562.5 1021.8 M1572.8 1029.3 L1579.7 1033.6 L1586.7 1036.8 L1593.6 1040.1 L1600.6 1043.2 L1607.5 1048.0 M1616.9 1054.6 L1624.0 1058.3 L1631.1 1060.9 L1638.3 1063.3 L1645.4 1064.9 L1652.5 1068.6 M1666.5 1073.3 L1673.6 1075.1 L1680.7 1079.2 L1687.9 1080.9 L1695.0 1080.9 L1702.1 1083.6 M1716.2 1085.5 L1722.3 1086.4 L1728.4 1088.9 L1734.5 1089.2 L1740.5 1090.4 L1746.6 1090.7 L1752.7 1093.0 M1767.7 1094.8 L1773.9 1095.5 L1780.2 1096.6 L1786.4 1097.5 L1792.6 1099.0 L1798.9 1099.9 L1805.1 1100.4 M1819.2 1102.0 L1825.8 1103.2 L1832.3 1103.6 L1838.8 1104.1 L1845.4 1104.1 L1852.0 1104.1 L1858.5 1105.1 M1871.6 1105.6 L1877.8 1106.3 L1884.1 1105.7 L1890.3 1105.8 L1896.6 1106.9 L1902.8 1106.7 L1909.1 1107.0 M1924.1 1108.6 L1930.3 1109.1 L1936.6 1109.9 L1942.8 1109.2 L1949.1 1109.1 L1955.3 1109.5 L1961.6 1109.6 M1976.5 1110.2 L1982.8 1110.8 L1989.0 1110.7 L1995.2 1110.1 L2001.5 1110.4 L2007.8 1111.1 L2014.0 1111.0 M2029.5 1111.5 L2035.9 1111.6 L2042.3 1111.8 L2048.8 1111.9 L2055.2 1112.0 L2061.6 1111.6 L2068.0 1111.8 M2082.5 1111.9 L2088.9 1112.5 L2095.3 1112.1 L2101.8 1111.4 L2108.2 1112.2 L2114.6 1111.8 L2121.0 1112.2 M2135.5 1112.3 L2141.9 1111.6 L2148.3 1112.2 L2154.8 1112.2 L2161.2 1111.8 L2167.6 1113.3 L2174.0 1112.6 M2188.5 1112.7 L2194.9 1112.8 L2201.3 1112.5 L2207.8 1113.3 L2214.2 1112.3 L2220.6 1113.6 L2227.0 1113.0"/>
</g>
<g fill="#000">
<rect x="364" y="1114" width="6" height="24"/>
<rect x="736" y="1114" width="6" height="24"/>
<rect x="1108" y="1114" width="6" height="24"/>
<rect x="1480" y="1114" width="7" height="24"/>
<rect x="1852" y="1114" width="7" height="24"/>
<rect x="2225" y="1114" width="6" height="24"/>
<rect x="194" y="1111" width="24" height="7"/>
<rect x="194" y="934" width="24" height="7"/>
<rect x="194" y="757" width="24" height="7"/>
<rect x="194" y="580" width="24" height="7"/>
<rect x="194" y="403" width="24" height="7"/>
<rect x="194" y="226" width="24" height="7"/>
<rect x="194" y="49" width="24" height="7"/>
<rect x="215" y="49" width="6" height="1069"/>
<rect x="2225" y="49" width="6" height="1069"/>
<rect x="215" y="49" width="2016" height="7"/>
<rect x="215" y="1111" width="2016" height="7"/>
</g>
<text transform="translate(367.2 1213.0) scale(1.0015 1)" text-anchor="middle">300</text>
<text transform="translate(739.4 1213.0) scale(1.0015 1)" text-anchor="middle">400</text>
<text transform="translate(1111.6 1213.0) scale(1.0015 1)" text-anchor="middle">500</text>
<text transform="translate(1483.9 1213.0) scale(1.0015 1)" text-anchor="middle">600</text>
<text transform="translate(1856.1 1213.0) scale(1.0015 1)" text-anchor="middle">700</text>
<text transform="translate(2228.3 1213.0) scale(1.0015 1)" text-anchor="middle">800</text>
<text transform="translate(171.4 1140.3) scale(1.0015 1)" text-anchor="end">0</text>
<text transform="translate(171.4 963.3) scale(1.0015 1)" text-anchor="end">1</text>
<text transform="translate(171.4 786.3) scale(1.0015 1)" text-anchor="end">2</text>
<text transform="translate(171.4 609.3) scale(1.0015 1)" text-anchor="end">3</text>
<text transform="translate(171.4 432.3) scale(1.0015 1)" text-anchor="end">4</text>
<text transform="translate(171.4 255.3) scale(1.0015 1)" text-anchor="end">5</text>
<text transform="translate(171.4 78.3) scale(1.0015 1)" text-anchor="end">6</text>
<text transform="translate(1222.2 1304.0) scale(0.9980 1)" text-anchor="middle">Wavelength / nm</text>
<text transform="translate(88.9 584.4) rotate(-90) scale(0.9980 1)" text-anchor="middle">Intensity (a.u.)</text>
<rect x="1701" y="134.0" width="145" height="11" fill="#0000ff"/>
<text transform="translate(1893.0 163.9) scale(1.0015 1)" text-anchor="start">MeCN</text>
<rect x="1701" y="232.0" width="145" height="11" fill="#008000"/>
<text transform="translate(1893.0 261.8) scale(1.0015 1)" text-anchor="start">DCM</text>
<rect x="1701" y="330.0" width="145" height="11" fill="#ff0000"/>
<text transform="translate(1893.0 359.7) scale(1.0015 1)" text-anchor="start">DMSO</text>
<rect x="1701" y="428.0" width="145" height="11" fill="#bfbf00"/>
<text transform="translate(1893.0 457.6) scale(0.9975 1)" text-anchor="start">Dioxane</text>
</svg></body></html>
